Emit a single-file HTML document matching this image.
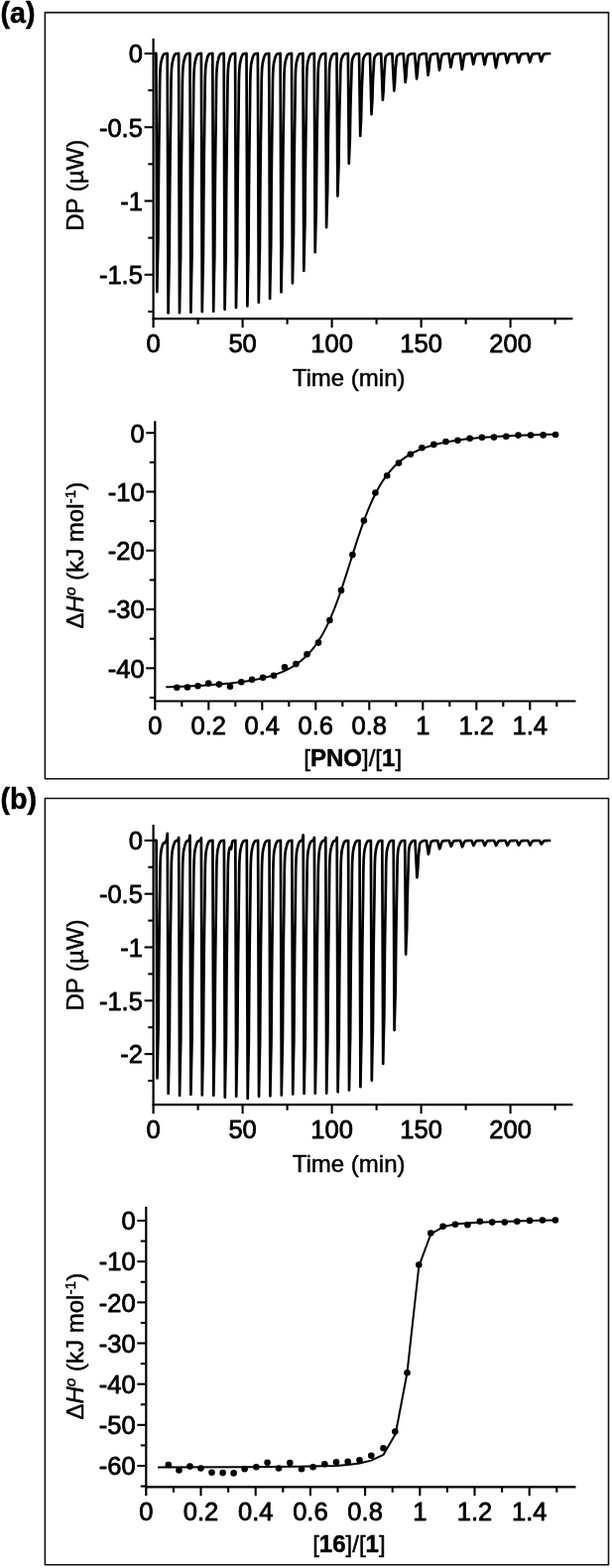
<!DOCTYPE html>
<html lang="en">
<head>
<meta charset="utf-8">
<title>ITC thermograms and binding isotherms</title>
<style>html,body{margin:0;padding:0;background:#fff}svg{display:block}</style>
</head>
<body>
<svg width="617" height="1580" viewBox="0 0 617 1580" font-family='"Liberation Sans", sans-serif' fill="#000">
<g stroke="#000" stroke-width="0.8" stroke-linejoin="round">
<rect width="617" height="1580" fill="#fff" stroke="none"/>
<rect x="45.4" y="12.6" width="568.1" height="772.2" fill="none" stroke="#111" stroke-width="1.6"/>
<rect x="45.4" y="804.5" width="568.1" height="772.3" fill="none" stroke="#111" stroke-width="1.6"/>
<text x="0.6" y="23" font-size="28.6" text-anchor="start" font-weight="bold" stroke-width="0.5">(a)</text>
<text x="0.6" y="815.3" font-size="28.6" text-anchor="start" font-weight="bold" stroke-width="0.5">(b)</text>
<line x1="154.6" y1="38.8" x2="154.6" y2="330.2" stroke="#000" stroke-width="2.2"/>
<line x1="153.5" y1="321.2" x2="577.4" y2="321.2" stroke="#000" stroke-width="2.2"/>
<line x1="145.6" y1="53.9" x2="154.6" y2="53.9" stroke="#000" stroke-width="2.1"/>
<text x="143.9" y="63.2" font-size="25.5" text-anchor="end">0</text>
<line x1="145.6" y1="128.2" x2="154.6" y2="128.2" stroke="#000" stroke-width="2.1"/>
<text x="143.9" y="137.5" font-size="25.5" text-anchor="end">-0.5</text>
<line x1="145.6" y1="202.5" x2="154.6" y2="202.5" stroke="#000" stroke-width="2.1"/>
<text x="143.9" y="211.8" font-size="25.5" text-anchor="end">-1</text>
<line x1="145.6" y1="276.8" x2="154.6" y2="276.8" stroke="#000" stroke-width="2.1"/>
<text x="143.9" y="286.1" font-size="25.5" text-anchor="end">-1.5</text>
<line x1="149.3" y1="91.05" x2="154.6" y2="91.05" stroke="#000" stroke-width="2.1"/>
<line x1="149.3" y1="165.35" x2="154.6" y2="165.35" stroke="#000" stroke-width="2.1"/>
<line x1="149.3" y1="239.65" x2="154.6" y2="239.65" stroke="#000" stroke-width="2.1"/>
<line x1="149.3" y1="313.95" x2="154.6" y2="313.95" stroke="#000" stroke-width="2.1"/>
<line x1="244.6" y1="321.2" x2="244.6" y2="330.2" stroke="#000" stroke-width="2.1"/>
<line x1="334.6" y1="321.2" x2="334.6" y2="330.2" stroke="#000" stroke-width="2.1"/>
<line x1="424.6" y1="321.2" x2="424.6" y2="330.2" stroke="#000" stroke-width="2.1"/>
<line x1="514.6" y1="321.2" x2="514.6" y2="330.2" stroke="#000" stroke-width="2.1"/>
<line x1="199.6" y1="321.2" x2="199.6" y2="326.7" stroke="#000" stroke-width="2.1"/>
<line x1="289.6" y1="321.2" x2="289.6" y2="326.7" stroke="#000" stroke-width="2.1"/>
<line x1="379.6" y1="321.2" x2="379.6" y2="326.7" stroke="#000" stroke-width="2.1"/>
<line x1="469.6" y1="321.2" x2="469.6" y2="326.7" stroke="#000" stroke-width="2.1"/>
<line x1="559.6" y1="321.2" x2="559.6" y2="326.7" stroke="#000" stroke-width="2.1"/>
<text x="154.6" y="355.3" font-size="25.5" text-anchor="middle">0</text>
<text x="244.6" y="355.3" font-size="25.5" text-anchor="middle">50</text>
<text x="334.6" y="355.3" font-size="25.5" text-anchor="middle">100</text>
<text x="424.6" y="355.3" font-size="25.5" text-anchor="middle">150</text>
<text x="514.6" y="355.3" font-size="25.5" text-anchor="middle">200</text>
<text x="351.6" y="388.5" font-size="24" text-anchor="middle" stroke-width="0.5">Time (min)</text>
<text transform="translate(84 186.8) rotate(-90)" font-size="24" text-anchor="middle" stroke-width="0.5">DP (µW)</text>
<polyline points="155.1,53.9 155.2,53.9 155.3,53.9 155.4,53.9 155.5,53.9 155.6,53.9 155.7,53.9 155.8,53.9 155.9,53.9 156,53.9 156.1,53.9 156.2,53.9 156.3,53.9 156.4,53.9 156.5,53.9 156.6,53.9 156.7,53.9 156.8,53.9 156.9,53.9 157,53.9 157.1,53.9 157.2,53.9 157.3,53.9 157.4,53.9 157.5,80.59 157.6,107.28 157.7,133.97 157.8,160.66 157.9,187.34 158,214.03 158.1,240.72 158.2,267.41 158.3,294.1 158.4,288.92 158.5,283.84 158.6,278.88 158.7,274.03 158.8,269.28 158.9,264.63 159,260.08 159.1,255.63 159.2,251.28 159.3,247.02 159.4,242.85 159.5,228.63 159.6,215.48 159.7,203.32 159.8,192.08 159.9,181.68 160,172.06 160.1,163.17 160.2,154.95 160.3,147.09 160.4,139.6 160.5,132.71 160.6,126.38 160.7,119.36 160.8,111.96 160.9,105.39 161,96.91 161.1,87.73 161.2,80.51 161.3,76.81 161.4,73.62 161.5,71.7 161.6,69.96 161.7,68.4 161.8,66.99 161.9,66.09 162,65.25 162.1,64.47 162.2,63.75 162.3,63.14 162.4,62.63 162.5,62.16 162.6,61.7 162.7,61.28 162.8,60.87 162.9,60.49 163,60.13 163.1,59.73 163.2,59.29 163.3,58.89 163.4,58.51 163.5,58.17 163.6,57.85 163.7,57.55 163.8,57.28 163.9,57.03 164,56.79 164.1,56.58 164.2,56.38 164.3,56.11 164.4,55.88 164.5,55.67 164.6,55.49 164.7,55.32 164.8,55.17 164.9,55.04 165,54.92 165.1,54.81 165.2,54.71 165.3,54.63 165.4,54.55 165.5,54.48 165.6,54.42 165.7,54.37 165.8,54.32 165.9,54.27 166,54.23 166.1,54.2 166.2,54.17 166.3,54.14 166.4,54.11 166.5,54.09 166.6,54.07 166.7,54.05 166.8,54.03 166.9,54.02 167,54.01 167.1,53.99 167.2,53.98 167.3,53.97 167.4,53.97 167.5,53.96 167.6,53.95 167.7,53.95 167.8,53.94 167.9,53.94 168,53.93 168.1,53.93 168.2,53.93 168.3,53.92 168.4,53.92 168.5,53.92 168.6,53.92 168.7,53.91 168.8,82.97 168.9,112.02 169,141.08 169.1,170.13 169.2,199.19 169.3,228.24 169.4,257.3 169.5,286.35 169.6,315.41 169.7,309.76 169.8,304.24 169.9,298.84 170,293.55 170.1,288.38 170.2,283.32 170.3,278.37 170.4,273.52 170.5,268.78 170.6,264.14 170.7,259.61 170.8,244.13 170.9,229.81 171,216.57 171.1,204.33 171.2,193.01 171.3,182.54 171.4,172.86 171.5,163.91 171.6,155.35 171.7,147.2 171.8,139.71 171.9,132.81 172,125.17 172.1,117.11 172.2,109.96 172.3,100.73 172.4,90.74 172.5,82.88 172.6,78.84 172.7,75.37 172.8,73.28 172.9,71.39 173,69.69 173.1,68.15 173.2,67.17 173.3,66.26 173.4,65.41 173.5,64.62 173.6,63.96 173.7,63.41 173.8,62.89 173.9,62.4 174,61.94 174.1,61.5 174.2,61.08 174.3,60.69 174.4,60.25 174.5,59.77 174.6,59.33 174.7,58.93 174.8,58.55 174.9,58.2 175,57.88 175.1,57.58 175.2,57.31 175.3,57.05 175.4,56.82 175.5,56.6 175.6,56.32 175.7,56.06 175.8,55.83 175.9,55.63 176,55.45 176.1,55.29 176.2,55.14 176.3,55.01 176.4,54.89 176.5,54.79 176.6,54.7 176.7,54.61 176.8,54.54 176.9,54.47 177,54.41 177.1,54.36 177.2,54.31 177.3,54.27 177.4,54.23 177.5,54.2 177.6,54.16 177.7,54.13 177.8,54.11 177.9,54.09 178,54.07 178.1,54.05 178.2,54.03 178.3,54.02 178.4,54.01 178.5,53.99 178.6,53.98 178.7,53.98 178.8,53.97 178.9,53.96 179,53.95 179.1,53.95 179.2,53.94 179.3,53.94 179.4,53.94 179.5,53.93 179.6,53.93 179.7,53.93 179.8,53.92 179.9,53.92 180,53.92 180.1,53.92 180.2,82.95 180.3,111.98 180.4,141.01 180.5,170.05 180.6,199.08 180.7,228.11 180.8,257.14 180.9,286.18 181,315.21 181.1,309.57 181.2,304.05 181.3,298.65 181.4,293.37 181.5,288.2 181.6,283.15 181.7,278.2 181.8,273.36 181.9,268.62 182,263.99 182.1,259.45 182.2,243.99 182.3,229.68 182.4,216.45 182.5,204.22 182.6,192.91 182.7,182.45 182.8,172.78 182.9,163.83 183,155.28 183.1,147.14 183.2,139.65 183.3,132.76 183.4,125.12 183.5,117.07 183.6,109.93 183.7,100.7 183.8,90.71 183.9,82.86 184,78.83 184.1,75.36 184.2,73.27 184.3,71.38 184.4,69.68 184.5,68.14 184.6,67.17 184.7,66.26 184.8,65.41 184.9,64.62 185,63.96 185.1,63.41 185.2,62.89 185.3,62.4 185.4,61.93 185.5,61.49 185.6,61.08 185.7,60.69 185.8,60.25 185.9,59.77 186,59.33 186.1,58.93 186.2,58.55 186.3,58.2 186.4,57.88 186.5,57.58 186.6,57.31 186.7,57.05 186.8,56.82 186.9,56.6 187,56.32 187.1,56.06 187.2,55.84 187.3,55.63 187.4,55.45 187.5,55.29 187.6,55.14 187.7,55.01 187.8,54.9 187.9,54.79 188,54.7 188.1,54.62 188.2,54.54 188.3,54.48 188.4,54.42 188.5,54.36 188.6,54.31 188.7,54.27 188.8,54.23 188.9,54.2 189,54.17 189.1,54.14 189.2,54.11 189.3,54.09 189.4,54.07 189.5,54.05 189.6,54.04 189.7,54.02 189.8,54.01 189.9,54 190,53.99 190.1,53.98 190.2,53.97 190.3,53.97 190.4,53.96 190.5,53.95 190.6,53.95 190.7,53.94 190.8,53.94 190.9,53.94 191,53.93 191.1,53.93 191.2,53.93 191.3,53.93 191.4,53.92 191.5,53.92 191.6,82.9 191.7,111.88 191.8,140.85 191.9,169.83 192,198.81 192.1,227.78 192.2,256.76 192.3,285.74 192.4,314.71 192.5,309.08 192.6,303.58 192.7,298.19 192.8,292.92 192.9,287.76 193,282.71 193.1,277.77 193.2,272.94 193.3,268.22 193.4,263.59 193.5,259.07 193.6,243.63 193.7,229.35 193.8,216.15 193.9,203.94 194,192.65 194.1,182.21 194.2,172.55 194.3,163.63 194.4,155.09 194.5,146.96 194.6,139.49 194.7,132.61 194.8,124.99 194.9,116.95 195,109.82 195.1,100.61 195.2,90.65 195.3,82.81 195.4,78.79 195.5,75.32 195.6,73.23 195.7,71.35 195.8,69.65 195.9,68.12 196,67.14 196.1,66.24 196.2,65.39 196.3,64.6 196.4,63.94 196.5,63.39 196.6,62.88 196.7,62.39 196.8,61.92 196.9,61.48 197,61.07 197.1,60.68 197.2,60.24 197.3,59.77 197.4,59.33 197.5,58.92 197.6,58.55 197.7,58.2 197.8,57.88 197.9,57.58 198,57.31 198.1,57.05 198.2,56.82 198.3,56.6 198.4,56.32 198.5,56.06 198.6,55.84 198.7,55.64 198.8,55.45 198.9,55.29 199,55.15 199.1,55.02 199.2,54.9 199.3,54.8 199.4,54.7 199.5,54.62 199.6,54.55 199.7,54.48 199.8,54.42 199.9,54.37 200,54.32 200.1,54.28 200.2,54.24 200.3,54.2 200.4,54.17 200.5,54.14 200.6,54.12 200.7,54.09 200.8,54.07 200.9,54.06 201,54.04 201.1,54.03 201.2,54.01 201.3,54 201.4,53.99 201.5,53.98 201.6,53.98 201.7,53.97 201.8,53.96 201.9,53.96 202,53.95 202.1,53.95 202.2,53.94 202.3,53.94 202.4,53.94 202.5,53.94 202.6,53.93 202.7,53.93 202.8,53.93 202.9,53.93 203,82.84 203.1,111.75 203.2,140.66 203.3,169.57 203.4,198.48 203.5,227.39 203.6,256.3 203.7,285.21 203.8,314.12 203.9,308.5 204,303.01 204.1,297.63 204.2,292.37 204.3,287.23 204.4,282.19 204.5,277.26 204.6,272.44 204.7,267.73 204.8,263.11 204.9,258.6 205,243.19 205.1,228.95 205.2,215.78 205.3,203.6 205.4,192.33 205.5,181.92 205.6,172.29 205.7,163.38 205.8,154.86 205.9,146.75 206,139.29 206.1,132.43 206.2,124.83 206.3,116.81 206.4,109.7 206.5,100.51 206.6,90.57 206.7,82.75 206.8,78.73 206.9,75.28 207,73.19 207.1,71.32 207.2,69.62 207.3,68.09 207.4,67.12 207.5,66.21 207.6,65.37 207.7,64.58 207.8,63.92 207.9,63.38 208,62.86 208.1,62.37 208.2,61.91 208.3,61.47 208.4,61.06 208.5,60.67 208.6,60.23 208.7,59.76 208.8,59.32 208.9,58.92 209,58.54 209.1,58.19 209.2,57.87 209.3,57.58 209.4,57.3 209.5,57.05 209.6,56.82 209.7,56.6 209.8,56.32 209.9,56.06 210,55.84 210.1,55.64 210.2,55.45 210.3,55.29 210.4,55.15 210.5,55.02 210.6,54.9 210.7,54.8 210.8,54.71 210.9,54.62 211,54.55 211.1,54.48 211.2,54.42 211.3,54.37 211.4,54.32 211.5,54.28 211.6,54.24 211.7,54.21 211.8,54.17 211.9,54.15 212,54.12 212.1,54.1 212.2,54.08 212.3,54.06 212.4,54.05 212.5,54.03 212.6,54.02 212.7,54.01 212.8,54 212.9,53.99 213,53.98 213.1,53.97 213.2,53.97 213.3,53.96 213.4,53.96 213.5,53.95 213.6,53.95 213.7,53.95 213.8,53.94 213.9,53.94 214,53.94 214.1,53.93 214.2,53.93 214.3,53.93 214.4,82.81 214.5,111.68 214.6,140.56 214.7,169.44 214.8,198.31 214.9,227.19 215,256.07 215.1,284.94 215.2,313.82 215.3,308.21 215.4,302.72 215.5,297.35 215.6,292.1 215.7,286.96 215.8,281.93 215.9,277.01 216,272.2 216.1,267.48 216.2,262.88 216.3,258.37 216.4,242.98 216.5,228.75 216.6,215.6 216.7,203.43 216.8,192.18 216.9,181.77 217,172.15 217.1,163.26 217.2,154.75 217.3,146.65 217.4,139.2 217.5,132.35 217.6,124.75 217.7,116.74 217.8,109.64 217.9,100.46 218,90.53 218.1,82.72 218.2,78.71 218.3,75.26 218.4,73.18 218.5,71.3 218.6,69.61 218.7,68.08 218.8,67.11 218.9,66.2 219,65.36 219.1,64.57 219.2,63.92 219.3,63.37 219.4,62.85 219.5,62.37 219.6,61.9 219.7,61.47 219.8,61.05 219.9,60.66 220,60.23 220.1,59.75 220.2,59.32 220.3,58.91 220.4,58.54 220.5,58.19 220.6,57.87 220.7,57.58 220.8,57.3 220.9,57.05 221,56.82 221.1,56.6 221.2,56.32 221.3,56.07 221.4,55.84 221.5,55.64 221.6,55.46 221.7,55.3 221.8,55.15 221.9,55.02 222,54.91 222.1,54.8 222.2,54.71 222.3,54.63 222.4,54.55 222.5,54.49 222.6,54.43 222.7,54.37 222.8,54.33 222.9,54.28 223,54.24 223.1,54.21 223.2,54.18 223.3,54.15 223.4,54.13 223.5,54.1 223.6,54.08 223.7,54.07 223.8,54.05 223.9,54.04 224,54.02 224.1,54.01 224.2,54 224.3,53.99 224.4,53.98 224.5,53.98 224.6,53.97 224.7,53.97 224.8,53.96 224.9,53.96 225,53.95 225.1,53.95 225.2,53.95 225.3,53.94 225.4,53.94 225.5,53.94 225.6,53.94 225.7,53.94 225.8,82.59 225.9,111.24 226,139.9 226.1,168.55 226.2,197.21 226.3,225.86 226.4,254.52 226.5,283.17 226.6,311.83 226.7,306.26 226.8,300.81 226.9,295.49 227,290.27 227.1,285.17 227.2,280.18 227.3,275.3 227.4,270.52 227.5,265.85 227.6,261.27 227.7,256.8 227.8,241.53 227.9,227.41 228,214.36 228.1,202.28 228.2,191.12 228.3,180.8 228.4,171.25 228.5,162.42 228.6,153.98 228.7,145.94 228.8,138.55 228.9,131.75 229,124.21 229.1,116.26 229.2,109.21 229.3,100.11 229.4,90.25 229.5,82.5 229.6,78.52 229.7,75.1 229.8,73.03 229.9,71.17 230,69.49 230.1,67.98 230.2,67.01 230.3,66.11 230.4,65.28 230.5,64.5 230.6,63.84 230.7,63.3 230.8,62.79 230.9,62.3 231,61.85 231.1,61.41 231.2,61 231.3,60.62 231.4,60.18 231.5,59.71 231.6,59.28 231.7,58.88 231.8,58.51 231.9,58.17 232,57.85 232.1,57.55 232.2,57.28 232.3,57.03 232.4,56.8 232.5,56.58 232.6,56.3 232.7,56.05 232.8,55.83 232.9,55.63 233,55.45 233.1,55.29 233.2,55.15 233.3,55.02 233.4,54.9 233.5,54.8 233.6,54.71 233.7,54.63 233.8,54.55 233.9,54.49 234,54.43 234.1,54.37 234.2,54.33 234.3,54.28 234.4,54.25 234.5,54.21 234.6,54.18 234.7,54.15 234.8,54.13 234.9,54.11 235,54.09 235.1,54.07 235.2,54.05 235.3,54.04 235.4,54.03 235.5,54.02 235.6,54.01 235.7,54 235.8,53.99 235.9,53.98 236,53.98 236.1,53.97 236.2,53.97 236.3,53.96 236.4,53.96 236.5,53.95 236.6,53.95 236.7,53.95 236.8,53.95 236.9,53.94 237,53.94 237.1,53.94 237.2,82.38 237.3,110.83 237.4,139.27 237.5,167.71 237.6,196.16 237.7,224.6 237.8,253.04 237.9,281.49 238,309.93 238.1,304.41 238.2,299 238.3,293.71 238.4,288.54 238.5,283.47 238.6,278.52 238.7,273.67 238.8,268.93 238.9,264.29 239,259.75 239.1,255.31 239.2,240.15 239.3,226.14 239.4,213.18 239.5,201.2 239.6,190.11 239.7,179.87 239.8,170.39 239.9,161.62 240,153.25 240.1,145.27 240.2,137.93 240.3,131.18 240.4,123.7 240.5,115.81 240.6,108.81 240.7,99.77 240.8,89.99 240.9,82.3 241,78.34 241.1,74.94 241.2,72.9 241.3,71.05 241.4,69.38 241.5,67.88 241.6,66.92 241.7,66.03 241.8,65.2 241.9,64.42 242,63.78 242.1,63.24 242.2,62.73 242.3,62.25 242.4,61.79 242.5,61.36 242.6,60.96 242.7,60.57 242.8,60.14 242.9,59.68 243,59.25 243.1,58.85 243.2,58.48 243.3,58.14 243.4,57.82 243.5,57.53 243.6,57.26 243.7,57.01 243.8,56.78 243.9,56.57 244,56.29 244.1,56.04 244.2,55.82 244.3,55.62 244.4,55.44 244.5,55.28 244.6,55.14 244.7,55.01 244.8,54.9 244.9,54.8 245,54.71 245.1,54.62 245.2,54.55 245.3,54.49 245.4,54.43 245.5,54.38 245.6,54.33 245.7,54.29 245.8,54.25 245.9,54.22 246,54.18 246.1,54.16 246.2,54.13 246.3,54.11 246.4,54.09 246.5,54.07 246.6,54.06 246.7,54.04 246.8,54.03 246.9,54.02 247,54.01 247.1,54 247.2,53.99 247.3,53.99 247.4,53.98 247.5,53.97 247.6,53.97 247.7,53.97 247.8,53.96 247.9,53.96 248,53.95 248.1,53.95 248.2,53.95 248.3,53.95 248.4,53.95 248.5,53.94 248.6,82.22 248.7,110.5 248.8,138.77 248.9,167.05 249,195.33 249.1,223.6 249.2,251.88 249.3,280.16 249.4,308.43 249.5,302.94 249.6,297.57 249.7,292.31 249.8,287.17 249.9,282.13 250,277.21 250.1,272.39 250.2,267.67 250.3,263.06 250.4,258.55 250.5,254.13 250.6,239.07 250.7,225.13 250.8,212.25 250.9,200.34 251,189.32 251.1,179.13 251.2,169.71 251.3,161 251.4,152.67 251.5,144.74 251.6,137.44 251.7,130.73 251.8,123.29 251.9,115.45 252,108.49 252.1,99.51 252.2,89.78 252.3,82.13 252.4,78.21 252.5,74.83 252.6,72.79 252.7,70.95 252.8,69.29 252.9,67.8 253,66.85 253.1,65.96 253.2,65.13 253.3,64.37 253.4,63.72 253.5,63.19 253.6,62.68 253.7,62.2 253.8,61.75 253.9,61.32 254,60.92 254.1,60.54 254.2,60.11 254.3,59.65 254.4,59.22 254.5,58.82 254.6,58.46 254.7,58.12 254.8,57.81 254.9,57.52 255,57.25 255.1,57 255.2,56.77 255.3,56.56 255.4,56.28 255.5,56.03 255.6,55.81 255.7,55.62 255.8,55.44 255.9,55.28 256,55.14 256.1,55.01 256.2,54.9 256.3,54.8 256.4,54.71 256.5,54.62 256.6,54.55 256.7,54.49 256.8,54.43 256.9,54.38 257,54.33 257.1,54.29 257.2,54.25 257.3,54.22 257.4,54.19 257.5,54.16 257.6,54.13 257.7,54.11 257.8,54.09 257.9,54.08 258,54.06 258.1,54.05 258.2,54.03 258.3,54.02 258.4,54.01 258.5,54 258.6,54 258.7,53.99 258.8,53.98 258.9,53.98 259,53.97 259.1,53.97 259.2,53.97 259.3,53.96 259.4,53.96 259.5,53.96 259.6,53.95 259.7,53.95 259.8,53.95 259.9,53.95 260,81.8 260.1,109.66 260.2,137.51 260.3,165.37 260.4,193.22 260.5,221.07 260.6,248.93 260.7,276.78 260.8,304.64 260.9,299.23 261,293.93 261.1,288.75 261.2,283.69 261.3,278.73 261.4,273.88 261.5,269.13 261.6,264.49 261.7,259.94 261.8,255.5 261.9,251.15 262,236.31 262.1,222.58 262.2,209.89 262.3,198.16 262.4,187.3 262.5,177.27 262.6,167.99 262.7,159.4 262.8,151.2 262.9,143.38 263,136.2 263.1,129.59 263.2,122.26 263.3,114.54 263.4,107.68 263.5,98.83 263.6,89.25 263.7,81.72 263.8,77.85 263.9,74.52 264,72.51 264.1,70.7 264.2,69.07 264.3,67.6 264.4,66.66 264.5,65.79 264.6,64.97 264.7,64.21 264.8,63.58 264.9,63.05 265,62.55 265.1,62.08 265.2,61.64 265.3,61.22 265.4,60.82 265.5,60.44 265.6,60.02 265.7,59.57 265.8,59.14 265.9,58.75 266,58.39 266.1,58.06 266.2,57.75 266.3,57.47 266.4,57.2 266.5,56.96 266.6,56.73 266.7,56.52 266.8,56.25 266.9,56.01 267,55.79 267.1,55.59 267.2,55.42 267.3,55.26 267.4,55.12 267.5,55 267.6,54.89 267.7,54.79 267.8,54.7 267.9,54.62 268,54.55 268.1,54.48 268.2,54.43 268.3,54.37 268.4,54.33 268.5,54.29 268.6,54.25 268.7,54.22 268.8,54.19 268.9,54.16 269,54.14 269.1,54.11 269.2,54.09 269.3,54.08 269.4,54.06 269.5,54.05 269.6,54.04 269.7,54.03 269.8,54.02 269.9,54.01 270,54 270.1,53.99 270.2,53.99 270.3,53.98 270.4,53.98 270.5,53.97 270.6,53.97 270.7,53.97 270.8,53.96 270.9,53.96 271,53.96 271.1,53.96 271.2,53.95 271.3,81.4 271.4,108.84 271.5,136.28 271.6,163.73 271.7,191.17 271.8,218.61 271.9,246.06 272,273.5 272.1,300.94 272.2,295.61 272.3,290.4 272.4,285.29 272.5,280.3 272.6,275.42 272.7,270.64 272.8,265.96 272.9,261.38 273,256.91 273.1,252.53 273.2,248.24 273.3,233.62 273.4,220.1 273.5,207.59 273.6,196.03 273.7,185.34 273.8,175.45 273.9,166.31 274,157.85 274.1,149.77 274.2,142.07 274.3,134.99 274.4,128.48 274.5,121.26 274.6,113.65 274.7,106.89 274.8,98.17 274.9,88.73 275,81.31 275.1,77.5 275.2,74.22 275.3,72.24 275.4,70.46 275.5,68.85 275.6,67.4 275.7,66.47 275.8,65.61 275.9,64.81 276,64.07 276.1,63.44 276.2,62.92 276.3,62.43 276.4,61.97 276.5,61.53 276.6,61.11 276.7,60.72 276.8,60.35 276.9,59.94 277,59.49 277.1,59.07 277.2,58.69 277.3,58.33 277.4,58 277.5,57.7 277.6,57.42 277.7,57.16 277.8,56.92 277.9,56.69 278,56.49 278.1,56.22 278.2,55.98 278.3,55.77 278.4,55.57 278.5,55.4 278.6,55.25 278.7,55.11 278.8,54.99 278.9,54.88 279,54.78 279.1,54.69 279.2,54.61 279.3,54.54 279.4,54.48 279.5,54.42 279.6,54.37 279.7,54.33 279.8,54.29 279.9,54.25 280,54.22 280.1,54.19 280.2,54.16 280.3,54.14 280.4,54.12 280.5,54.1 280.6,54.08 280.7,54.06 280.8,54.05 280.9,54.04 281,54.03 281.1,54.02 281.2,54.01 281.3,54 281.4,54 281.5,53.99 281.6,53.99 281.7,53.98 281.8,53.98 281.9,53.97 282,53.97 282.1,53.97 282.2,53.96 282.3,53.96 282.4,53.96 282.5,53.96 282.6,53.96 282.7,80.67 282.8,107.38 282.9,134.09 283,160.8 283.1,187.51 283.2,214.22 283.3,240.93 283.4,267.64 283.5,294.35 283.6,289.16 283.7,284.08 283.8,279.12 283.9,274.26 284,269.5 284.1,264.85 284.2,260.3 284.3,255.84 284.4,251.49 284.5,247.22 284.6,243.05 284.7,228.82 284.8,215.66 284.9,203.49 285,192.24 285.1,181.83 285.2,172.21 285.3,163.31 285.4,155.08 285.5,147.21 285.6,139.72 285.7,132.83 285.8,126.49 285.9,119.46 286,112.05 286.1,105.48 286.2,96.99 286.3,87.81 286.4,80.58 286.5,76.87 286.6,73.68 286.7,71.76 286.8,70.02 286.9,68.46 287,67.04 287.1,66.14 287.2,65.31 287.3,64.53 287.4,63.8 287.5,63.19 287.6,62.69 287.7,62.21 287.8,61.76 287.9,61.33 288,60.93 288.1,60.54 288.2,60.18 288.3,59.78 288.4,59.34 288.5,58.94 288.6,58.56 288.7,58.22 288.8,57.9 288.9,57.6 289,57.33 289.1,57.08 289.2,56.84 289.3,56.63 289.4,56.42 289.5,56.16 289.6,55.93 289.7,55.72 289.8,55.53 289.9,55.37 290,55.22 290.1,55.08 290.2,54.96 290.3,54.86 290.4,54.76 290.5,54.68 290.6,54.6 290.7,54.53 290.8,54.47 290.9,54.41 291,54.36 291.1,54.32 291.2,54.28 291.3,54.25 291.4,54.21 291.5,54.19 291.6,54.16 291.7,54.14 291.8,54.11 291.9,54.1 292,54.08 292.1,54.07 292.2,54.05 292.3,54.04 292.4,54.03 292.5,54.02 292.6,54.01 292.7,54.01 292.8,54 292.9,53.99 293,53.99 293.1,53.98 293.2,53.98 293.3,53.98 293.4,53.97 293.5,53.97 293.6,53.97 293.7,53.97 293.8,53.96 293.9,53.96 294,53.96 294.1,79.67 294.2,105.38 294.3,131.09 294.4,156.8 294.5,182.51 294.6,208.22 294.7,233.93 294.8,259.64 294.9,285.35 295,280.36 295.1,275.47 295.2,270.69 295.3,266.01 295.4,261.44 295.5,256.96 295.6,252.58 295.7,248.29 295.8,244.1 295.9,239.99 296,235.98 296.1,222.28 296.2,209.61 296.3,197.9 296.4,187.07 296.5,177.05 296.6,167.78 296.7,159.22 296.8,151.3 296.9,143.72 297,136.51 297.1,129.88 297.2,123.78 297.3,117.01 297.4,109.88 297.5,103.56 297.6,95.39 297.7,86.55 297.8,79.59 297.9,76.02 298,72.95 298.1,71.09 298.2,69.42 298.3,67.92 298.4,66.56 298.5,65.69 298.6,64.89 298.7,64.13 298.8,63.44 298.9,62.85 299,62.36 299.1,61.9 299.2,61.47 299.3,61.06 299.4,60.67 299.5,60.3 299.6,59.95 299.7,59.56 299.8,59.14 299.9,58.76 300,58.4 300.1,58.06 300.2,57.76 300.3,57.47 300.4,57.21 300.5,56.96 300.6,56.74 300.7,56.53 300.8,56.34 300.9,56.08 301,55.86 301.1,55.66 301.2,55.48 301.3,55.32 301.4,55.17 301.5,55.05 301.6,54.93 301.7,54.83 301.8,54.73 301.9,54.65 302,54.58 302.1,54.51 302.2,54.45 302.3,54.4 302.4,54.35 302.5,54.31 302.6,54.27 302.7,54.24 302.8,54.21 302.9,54.18 303,54.16 303.1,54.13 303.2,54.11 303.3,54.09 303.4,54.08 303.5,54.06 303.6,54.05 303.7,54.04 303.8,54.03 303.9,54.02 304,54.01 304.1,54.01 304.2,54 304.3,54 304.4,53.99 304.5,53.99 304.6,53.98 304.7,53.98 304.8,53.98 304.9,53.97 305,53.97 305.1,53.97 305.2,53.97 305.3,53.96 305.4,53.96 305.5,78.28 305.6,102.61 305.7,126.93 305.8,151.25 305.9,175.57 306,199.89 306.1,224.21 306.2,248.53 306.3,272.86 306.4,268.13 306.5,263.51 306.6,258.99 306.7,254.56 306.8,250.23 306.9,246 307,241.85 307.1,237.8 307.2,233.83 307.3,229.95 307.4,226.15 307.5,213.19 307.6,201.21 307.7,190.13 307.8,179.88 307.9,170.4 308,161.64 308.1,153.54 308.2,146.04 308.3,138.88 308.4,132.05 308.5,125.78 308.6,120.01 308.7,113.61 308.8,106.87 308.9,100.88 309,93.15 309.1,84.79 309.2,78.21 309.3,74.83 309.4,71.92 309.5,70.17 309.6,68.59 309.7,67.17 309.8,65.88 309.9,65.06 310,64.3 310.1,63.59 310.2,62.93 310.3,62.37 310.4,61.91 310.5,61.48 310.6,61.07 310.7,60.68 310.8,60.31 310.9,59.96 311,59.63 311.1,59.27 311.2,58.87 311.3,58.5 311.4,58.16 311.5,57.84 311.6,57.55 311.7,57.28 311.8,57.03 311.9,56.8 312,56.59 312.1,56.39 312.2,56.21 312.3,55.97 312.4,55.76 312.5,55.57 312.6,55.4 312.7,55.25 312.8,55.11 312.9,54.99 313,54.88 313.1,54.78 313.2,54.7 313.3,54.62 313.4,54.55 313.5,54.49 313.6,54.43 313.7,54.38 313.8,54.34 313.9,54.3 314,54.26 314.1,54.23 314.2,54.2 314.3,54.17 314.4,54.15 314.5,54.13 314.6,54.11 314.7,54.09 314.8,54.08 314.9,54.06 315,54.05 315.1,54.04 315.2,54.03 315.3,54.02 315.4,54.01 315.5,54.01 315.6,54 315.7,54 315.8,53.99 315.9,53.99 316,53.98 316.1,53.98 316.2,53.98 316.3,53.98 316.4,53.97 316.5,53.97 316.6,53.97 316.7,53.97 316.8,53.97 316.9,76.22 317,98.48 317.1,120.73 317.2,142.98 317.3,165.24 317.4,187.49 317.5,209.75 317.6,232 317.7,254.26 317.8,249.94 317.9,245.71 318,241.57 318.1,237.52 318.2,233.56 318.3,229.68 318.4,225.89 318.5,222.18 318.6,218.55 318.7,215 318.8,211.52 318.9,199.66 319,188.7 319.1,178.56 319.2,169.18 319.3,160.51 319.4,152.49 319.5,145.08 319.6,138.22 319.7,131.67 319.8,125.42 319.9,119.68 320,114.4 320.1,108.55 320.2,102.37 320.3,96.9 320.4,89.83 320.5,82.17 320.6,76.15 320.7,73.06 320.8,70.4 320.9,68.8 321,67.35 321.1,66.05 321.2,64.87 321.3,64.12 321.4,63.42 321.5,62.77 321.6,62.17 321.7,61.66 321.8,61.24 321.9,60.84 322,60.47 322.1,60.11 322.2,59.77 322.3,59.46 322.4,59.15 322.5,58.82 322.6,58.45 322.7,58.12 322.8,57.81 322.9,57.52 323,57.25 323.1,57 323.2,56.78 323.3,56.57 323.4,56.37 323.5,56.19 323.6,56.02 323.7,55.81 323.8,55.61 323.9,55.44 324,55.28 324.1,55.14 324.2,55.02 324.3,54.91 324.4,54.81 324.5,54.72 324.6,54.64 324.7,54.57 324.8,54.5 324.9,54.44 325,54.39 325.1,54.35 325.2,54.31 325.3,54.27 325.4,54.24 325.5,54.21 325.6,54.18 325.7,54.16 325.8,54.14 325.9,54.12 326,54.1 326.1,54.08 326.2,54.07 326.3,54.06 326.4,54.05 326.5,54.04 326.6,54.03 326.7,54.02 326.8,54.01 326.9,54.01 327,54 327.1,54 327.2,53.99 327.3,53.99 327.4,53.99 327.5,53.98 327.6,53.98 327.7,53.98 327.8,53.98 327.9,53.97 328,53.97 328.1,53.97 328.2,53.97 328.3,73.45 328.4,92.92 328.5,112.4 328.6,131.88 328.7,151.35 328.8,170.83 328.9,190.31 329,209.78 329.1,229.26 329.2,225.48 329.3,221.78 329.4,218.16 329.5,214.61 329.6,211.14 329.7,207.75 329.8,204.43 329.9,201.19 330,198.01 330.1,194.9 330.2,191.86 330.3,181.48 330.4,171.88 330.5,163.01 330.6,154.8 330.7,147.22 330.8,140.2 330.9,133.71 331,127.71 331.1,121.97 331.2,116.51 331.3,111.48 331.4,106.86 331.5,101.74 331.6,96.33 331.7,91.54 331.8,85.35 331.9,78.65 332,73.39 332.1,70.68 332.2,68.35 332.3,66.95 332.4,65.68 332.5,64.54 332.6,63.51 332.7,62.86 332.8,62.25 332.9,61.68 333,61.15 333.1,60.7 333.2,60.34 333.3,59.99 333.4,59.66 333.5,59.35 333.6,59.05 333.7,58.77 333.8,58.51 333.9,58.21 334,57.9 334.1,57.6 334.2,57.33 334.3,57.08 334.4,56.84 334.5,56.63 334.6,56.43 334.7,56.24 334.8,56.07 334.9,55.91 335,55.77 335.1,55.58 335.2,55.41 335.3,55.26 335.4,55.12 335.5,55 335.6,54.89 335.7,54.79 335.8,54.7 335.9,54.63 336,54.56 336.1,54.49 336.2,54.44 336.3,54.39 336.4,54.34 336.5,54.3 336.6,54.27 336.7,54.23 336.8,54.21 336.9,54.18 337,54.16 337.1,54.14 337.2,54.12 337.3,54.1 337.4,54.08 337.5,54.07 337.6,54.06 337.7,54.05 337.8,54.04 337.9,54.03 338,54.02 338.1,54.02 338.2,54.01 338.3,54 338.4,54 338.5,54 338.6,53.99 338.7,53.99 338.8,53.99 338.9,53.98 339,53.98 339.1,53.98 339.2,53.98 339.3,53.98 339.4,53.97 339.5,53.97 339.6,69.93 339.7,85.88 339.8,101.84 339.9,117.79 340,133.75 340.1,149.7 340.2,165.66 340.3,181.61 340.4,197.57 340.5,194.4 340.6,191.32 340.7,188.3 340.8,185.35 340.9,182.47 341,179.66 341.1,176.91 341.2,174.22 341.3,171.59 341.4,169.03 341.5,165.48 341.6,157.02 341.7,149.21 341.8,142 341.9,135.34 342,129.19 342.1,123.51 342.2,118.26 342.3,113.42 342.4,108.73 342.5,104.33 342.6,100.29 342.7,96.58 342.8,92.19 342.9,87.89 343,84.07 343.1,78.6 343.2,73.38 343.3,69.49 343.4,67.35 343.5,65.58 343.6,64.46 343.7,63.45 343.8,62.54 343.9,61.74 344,61.21 344.1,60.72 344.2,60.27 344.3,59.84 344.4,59.49 344.5,59.19 344.6,58.9 344.7,58.63 344.8,58.37 344.9,58.13 345,57.91 345.1,57.69 345.2,57.45 345.3,57.19 345.4,56.95 345.5,56.72 345.6,56.52 345.7,56.33 345.8,56.15 345.9,55.99 346,55.83 346.1,55.69 346.2,55.56 346.3,55.44 346.4,55.29 346.5,55.15 346.6,55.02 346.7,54.91 346.8,54.81 346.9,54.72 347,54.64 347.1,54.57 347.2,54.51 347.3,54.45 347.4,54.4 347.5,54.35 347.6,54.31 347.7,54.28 347.8,54.24 347.9,54.21 348,54.19 348.1,54.16 348.2,54.14 348.3,54.12 348.4,54.11 348.5,54.09 348.6,54.08 348.7,54.07 348.8,54.05 348.9,54.04 349,54.04 349.1,54.03 349.2,54.02 349.3,54.01 349.4,54.01 349.5,54 349.6,54 349.7,54 349.8,53.99 349.9,53.99 350,53.99 350.1,53.98 350.2,53.98 350.3,53.98 350.4,53.98 350.5,53.98 350.6,53.98 350.7,53.97 350.8,53.97 350.9,53.97 351,66.28 351.1,78.59 351.2,90.9 351.3,103.21 351.4,115.52 351.5,127.84 351.6,140.15 351.7,152.46 351.8,164.77 351.9,162.05 352,159.42 352.1,156.87 352.2,154.4 352.3,152 352.4,149.68 352.5,147.43 352.6,145.25 352.7,143.13 352.8,140.94 352.9,134.01 353,127.68 353.1,121.88 353.2,116.57 353.3,111.71 353.4,107.26 353.5,103.18 353.6,99.43 353.7,95.8 353.8,92.44 353.9,89.37 354,86.57 354.1,83.16 354.2,79.95 354.3,77.1 354.4,72.96 354.5,69.08 354.6,66.09 354.7,64.49 354.8,63.12 354.9,62.27 355,61.52 355.1,60.84 355.2,60.23 355.3,59.77 355.4,59.41 355.5,59.07 355.6,58.76 355.7,58.47 355.8,58.23 355.9,58 356,57.78 356.1,57.57 356.2,57.37 356.3,57.18 356.4,57.01 356.5,56.84 356.6,56.66 356.7,56.45 356.8,56.27 356.9,56.1 357,55.94 357.1,55.79 357.2,55.65 357.3,55.53 357.4,55.41 357.5,55.3 357.6,55.2 357.7,55.11 357.8,54.99 357.9,54.88 358,54.79 358.1,54.7 358.2,54.62 358.3,54.55 358.4,54.49 358.5,54.44 358.6,54.39 358.7,54.34 358.8,54.3 358.9,54.27 359,54.24 359.1,54.21 359.2,54.18 359.3,54.16 359.4,54.14 359.5,54.12 359.6,54.11 359.7,54.09 359.8,54.08 359.9,54.06 360,54.05 360.1,54.04 360.2,54.04 360.3,54.03 360.4,54.02 360.5,54.02 360.6,54.01 360.7,54.01 360.8,54 360.9,54 361,53.99 361.1,53.99 361.2,53.99 361.3,53.99 361.4,53.98 361.5,53.98 361.6,53.98 361.7,53.98 361.8,53.98 361.9,53.98 362,53.98 362.1,58.75 362.2,65.86 362.3,72.97 362.4,80.08 362.5,87.19 362.6,94.3 362.7,101.41 362.8,108.52 362.9,115.64 363,122.75 363.1,129.86 363.2,136.97 363.3,134.72 363.4,132.55 363.5,130.48 363.6,128.48 363.7,126.56 363.8,124.72 363.9,122.94 364,121.23 364.1,119.59 364.2,114.86 364.3,109.8 364.4,105.23 364.5,101.07 364.6,97.3 364.7,93.87 364.8,90.75 364.9,87.91 365,85.17 365.1,82.65 365.2,80.36 365.3,78.28 365.4,75.73 365.5,73.37 365.6,71.29 365.7,68.27 365.8,65.42 365.9,63.17 366,62 366.1,60.99 366.2,60.32 366.3,59.78 366.4,59.29 366.5,58.84 366.6,58.45 366.7,58.19 366.8,57.95 366.9,57.73 367,57.52 367.1,57.32 367.2,57.16 367.3,56.99 367.4,56.82 367.5,56.67 367.6,56.52 367.7,56.38 367.8,56.25 367.9,56.12 368,55.98 368.1,55.83 368.2,55.69 368.3,55.56 368.4,55.44 368.5,55.33 368.6,55.23 368.7,55.14 368.8,55.05 368.9,54.97 369,54.89 369.1,54.82 369.2,54.73 369.3,54.65 369.4,54.58 369.5,54.52 369.6,54.46 369.7,54.41 369.8,54.36 369.9,54.32 370,54.28 370.1,54.25 370.2,54.22 370.3,54.19 370.4,54.17 370.5,54.15 370.6,54.13 370.7,54.11 370.8,54.1 370.9,54.08 371,54.07 371.1,54.06 371.2,54.05 371.3,54.04 371.4,54.03 371.5,54.03 371.6,54.02 371.7,54.01 371.8,54.01 371.9,54.01 372,54 372.1,54 372.2,53.99 372.3,53.99 372.4,53.99 372.5,53.99 372.6,53.99 372.7,53.98 372.8,53.98 372.9,53.98 373,54.37 373.1,58.43 373.2,62.48 373.3,66.53 373.4,70.58 373.5,74.64 373.6,78.69 373.7,82.74 373.8,86.8 373.9,90.85 374,94.9 374.1,98.96 374.2,103.01 374.3,107.06 374.4,111.12 374.5,115.17 374.6,113.36 374.7,111.63 374.8,109.99 374.9,108.42 375,106.93 375.1,105.5 375.2,104.13 375.3,102.83 375.4,100.24 375.5,96.21 375.6,92.59 375.7,89.34 375.8,86.41 375.9,83.77 376,81.38 376.1,79.22 376.2,77.16 376.3,75.28 376.4,73.57 376.5,72.02 376.6,70.18 376.7,68.43 376.8,66.9 376.9,64.82 377,62.7 377.1,61.02 377.2,60.06 377.3,59.32 377.4,58.78 377.5,58.38 377.6,58.02 377.7,57.7 377.8,57.41 377.9,57.19 378,57.02 378.1,56.85 378.2,56.7 378.3,56.56 378.4,56.43 378.5,56.32 378.6,56.2 378.7,56.07 378.8,55.96 378.9,55.85 379,55.75 379.1,55.65 379.2,55.56 379.3,55.46 379.4,55.34 379.5,55.24 379.6,55.15 379.7,55.06 379.8,54.98 379.9,54.9 380,54.83 380.1,54.77 380.2,54.71 380.3,54.65 380.4,54.6 380.5,54.53 380.6,54.48 380.7,54.42 380.8,54.37 380.9,54.33 381,54.29 381.1,54.26 381.2,54.23 381.3,54.2 381.4,54.18 381.5,54.16 381.6,54.14 381.7,54.12 381.8,54.1 381.9,54.09 382,54.08 382.1,54.07 382.2,54.06 382.3,54.05 382.4,54.04 382.5,54.03 382.6,54.02 382.7,54.02 382.8,54.01 382.9,54.01 383,54 383.1,54 383.2,54 383.3,53.99 383.4,53.99 383.5,53.99 383.6,53.99 383.7,53.99 383.8,53.98 383.9,53.98 384,53.98 384.1,53.98 384.2,54.95 384.3,57.64 384.4,60.34 384.5,63.03 384.6,65.73 384.7,68.42 384.8,71.12 384.9,73.82 385,76.51 385.1,79.21 385.2,81.9 385.3,84.6 385.4,87.29 385.5,89.99 385.6,92.68 385.7,95.38 385.8,98.08 385.9,100.77 386,99.3 386.1,97.9 386.2,96.58 386.3,95.33 386.4,94.14 386.5,93.01 386.6,91.94 386.7,90.92 386.8,87.88 386.9,84.85 387,82.15 387.1,79.74 387.2,77.58 387.3,75.64 387.4,73.89 387.5,72.28 387.6,70.76 387.7,69.4 387.8,68.17 387.9,66.87 388,65.48 388.1,64.26 388.2,62.96 388.3,61.21 388.4,59.83 388.5,58.89 388.6,58.3 388.7,57.8 388.8,57.49 388.9,57.21 389,56.96 389.1,56.73 389.2,56.52 389.3,56.39 389.4,56.26 389.5,56.15 389.6,56.04 389.7,55.94 389.8,55.85 389.9,55.77 390,55.67 390.1,55.58 390.2,55.49 390.3,55.41 390.4,55.33 390.5,55.26 390.6,55.19 390.7,55.11 390.8,55.02 390.9,54.94 391,54.87 391.1,54.8 391.2,54.74 391.3,54.68 391.4,54.63 391.5,54.58 391.6,54.53 391.7,54.49 391.8,54.45 391.9,54.4 392,54.36 392.1,54.32 392.2,54.28 392.3,54.25 392.4,54.22 392.5,54.19 392.6,54.17 392.7,54.15 392.8,54.13 392.9,54.11 393,54.1 393.1,54.08 393.2,54.07 393.3,54.06 393.4,54.05 393.5,54.04 393.6,54.04 393.7,54.03 393.8,54.02 393.9,54.02 394,54.01 394.1,54.01 394.2,54 394.3,54 394.4,54 394.5,53.99 394.6,53.99 394.7,53.99 394.8,53.99 394.9,53.99 395,53.98 395.1,53.98 395.2,53.98 395.3,53.98 395.4,53.98 395.5,55.62 395.6,57.61 395.7,59.6 395.8,61.59 395.9,63.58 396,65.57 396.1,67.57 396.2,69.56 396.3,71.55 396.4,73.54 396.5,75.53 396.6,77.53 396.7,79.52 396.8,81.51 396.9,83.5 397,85.5 397.1,87.49 397.2,89.48 397.3,91.47 397.4,90.24 397.5,89.08 397.6,87.98 397.7,86.95 397.8,85.98 397.9,85.05 398,84.18 398.1,83.04 398.2,80.34 398.3,77.95 398.4,75.83 398.5,73.94 398.6,72.25 398.7,70.74 398.8,69.39 398.9,68.1 399,66.93 399.1,65.88 399.2,64.94 399.3,63.79 399.4,62.74 399.5,61.82 399.6,60.52 399.7,59.27 399.8,58.27 399.9,57.71 400,57.27 400.1,56.94 400.2,56.71 400.3,56.5 400.4,56.31 400.5,56.13 400.6,55.99 400.7,55.89 400.8,55.79 400.9,55.7 401,55.62 401.1,55.54 401.2,55.47 401.3,55.41 401.4,55.34 401.5,55.26 401.6,55.19 401.7,55.12 401.8,55.06 401.9,55 402,54.95 402.1,54.88 402.2,54.81 402.3,54.75 402.4,54.69 402.5,54.64 402.6,54.59 402.7,54.54 402.8,54.5 402.9,54.46 403,54.42 403.1,54.39 403.2,54.36 403.3,54.32 403.4,54.28 403.5,54.25 403.6,54.22 403.7,54.19 403.8,54.17 403.9,54.15 404,54.13 404.1,54.11 404.2,54.1 404.3,54.09 404.4,54.07 404.5,54.06 404.6,54.05 404.7,54.05 404.8,54.04 404.9,54.03 405,54.02 405.1,54.02 405.2,54.01 405.3,54.01 405.4,54.01 405.5,54 405.6,54 405.7,54 405.8,53.99 405.9,53.99 406,53.99 406.1,53.99 406.2,53.99 406.3,53.98 406.4,53.98 406.5,53.98 406.6,53.98 406.7,53.98 406.8,55.43 406.9,56.88 407,58.33 407.1,59.78 407.2,61.23 407.3,62.68 407.4,64.13 407.5,65.58 407.6,67.02 407.7,68.47 407.8,69.92 407.9,71.37 408,72.82 408.1,74.27 408.2,75.72 408.3,77.17 408.4,78.62 408.5,80.07 408.6,81.52 408.7,82.97 408.8,81.98 408.9,81.06 409,80.19 409.1,79.37 409.2,78.6 409.3,77.87 409.4,77.19 409.5,75.92 409.6,73.86 409.7,72.03 409.8,70.42 409.9,68.98 410,67.71 410.1,66.57 410.2,65.54 410.3,64.56 410.4,63.69 410.5,62.9 410.6,62.13 410.7,61.25 410.8,60.48 410.9,59.77 411,58.66 411.1,57.77 411.2,57.11 411.3,56.74 411.4,56.42 411.5,56.21 411.6,56.04 411.7,55.88 411.8,55.74 411.9,55.61 412,55.51 412.1,55.44 412.2,55.37 412.3,55.3 412.4,55.24 412.5,55.18 412.6,55.13 412.7,55.09 412.8,55.03 412.9,54.97 413,54.91 413.1,54.86 413.2,54.81 413.3,54.77 413.4,54.73 413.5,54.68 413.6,54.62 413.7,54.57 413.8,54.53 413.9,54.49 414,54.45 414.1,54.41 414.2,54.38 414.3,54.35 414.4,54.32 414.5,54.3 414.6,54.27 414.7,54.24 414.8,54.21 414.9,54.19 415,54.16 415.1,54.14 415.2,54.13 415.3,54.11 415.4,54.1 415.5,54.08 415.6,54.07 415.7,54.06 415.8,54.05 415.9,54.04 416,54.04 416.1,54.03 416.2,54.02 416.3,54.02 416.4,54.01 416.5,54.01 416.6,54.01 416.7,54 416.8,54 416.9,54 417,53.99 417.1,53.99 417.2,53.99 417.3,53.99 417.4,53.99 417.5,53.98 417.6,53.98 417.7,53.98 417.8,53.98 417.9,53.98 418,53.98 418.1,53.98 418.2,55.25 418.3,56.52 418.4,57.79 418.5,59.06 418.6,60.33 418.7,61.6 418.8,62.87 418.9,64.14 419,65.4 419.1,66.67 419.2,67.94 419.3,69.21 419.4,70.48 419.5,71.75 419.6,73.02 419.7,74.29 419.8,75.56 419.9,76.83 420,78.1 420.1,79.37 420.2,78.51 420.3,77.7 420.4,76.93 420.5,76.22 420.6,75.54 420.7,74.91 420.8,74.31 420.9,73.2 421,71.39 421.1,69.79 421.2,68.38 421.3,67.12 421.4,66 421.5,65 421.6,64.1 421.7,63.25 421.8,62.48 421.9,61.8 422,61.12 422.1,60.34 422.2,59.67 422.3,59.05 422.4,58.08 422.5,57.3 422.6,56.72 422.7,56.4 422.8,56.12 422.9,55.93 423,55.78 423.1,55.65 423.2,55.52 423.3,55.41 423.4,55.32 423.5,55.26 423.6,55.2 423.7,55.14 423.8,55.08 423.9,55.03 424,54.99 424.1,54.95 424.2,54.9 424.3,54.85 424.4,54.8 424.5,54.75 424.6,54.71 424.7,54.67 424.8,54.63 424.9,54.59 425,54.54 425.1,54.5 425.2,54.46 425.3,54.42 425.4,54.39 425.5,54.36 425.6,54.33 425.7,54.3 425.8,54.28 425.9,54.26 426,54.24 426.1,54.21 426.2,54.18 426.3,54.16 426.4,54.14 426.5,54.12 426.6,54.11 426.7,54.09 426.8,54.08 426.9,54.07 427,54.06 427.1,54.05 427.2,54.04 427.3,54.03 427.4,54.03 427.5,54.02 427.6,54.02 427.7,54.01 427.8,54.01 427.9,54 428,54 428.1,54 428.2,54 428.3,53.99 428.4,53.99 428.5,53.99 428.6,53.99 428.7,53.99 428.8,53.98 428.9,53.98 429,53.98 429.1,53.98 429.2,53.98 429.3,53.98 429.4,53.98 429.5,53.98 429.6,53.98 429.7,55.07 429.8,56.16 429.9,57.25 430,58.34 430.1,59.43 430.2,60.52 430.3,61.61 430.4,62.7 430.5,63.78 430.6,64.87 430.7,65.96 430.8,67.05 430.9,68.14 431,69.23 431.1,70.32 431.2,71.41 431.3,72.5 431.4,73.59 431.5,74.68 431.6,75.77 431.7,75.03 431.8,74.33 431.9,73.68 432,73.07 432.1,72.49 432.2,71.94 432.3,71.43 432.4,70.47 432.5,68.92 432.6,67.55 432.7,66.34 432.8,65.26 432.9,64.3 433,63.44 433.1,62.67 433.2,61.93 433.3,61.28 433.4,60.69 433.5,60.11 433.6,59.44 433.7,58.86 433.8,58.34 433.9,57.49 434,56.83 434.1,56.33 434.2,56.06 434.3,55.82 434.4,55.66 434.5,55.53 434.6,55.41 434.7,55.3 434.8,55.21 434.9,55.13 435,55.08 435.1,55.02 435.2,54.97 435.3,54.93 435.4,54.88 435.5,54.84 435.6,54.81 435.7,54.77 435.8,54.72 435.9,54.68 436,54.64 436.1,54.61 436.2,54.57 436.3,54.54 436.4,54.5 436.5,54.46 436.6,54.43 436.7,54.39 436.8,54.36 436.9,54.33 437,54.31 437.1,54.28 437.2,54.26 437.3,54.24 437.4,54.22 437.5,54.2 437.6,54.17 437.7,54.15 437.8,54.13 437.9,54.12 438,54.1 438.1,54.09 438.2,54.08 438.3,54.07 438.4,54.06 438.5,54.05 438.6,54.04 438.7,54.03 438.8,54.03 438.9,54.02 439,54.02 439.1,54.01 439.2,54.01 439.3,54 439.4,54 439.5,54 439.6,54 439.7,53.99 439.8,53.99 439.9,53.99 440,53.99 440.1,53.99 440.2,53.98 440.3,53.98 440.4,53.98 440.5,53.98 440.6,53.98 440.7,53.98 440.8,53.98 440.9,53.98 441,53.98 441.1,54.81 441.2,55.64 441.3,56.47 441.4,57.3 441.5,58.13 441.6,58.96 441.7,59.79 441.8,60.62 441.9,61.45 442,62.28 442.1,63.1 442.2,63.93 442.3,64.76 442.4,65.59 442.5,66.42 442.6,67.25 442.7,68.08 442.8,68.91 442.9,69.74 443,70.57 443.1,70.01 443.2,69.48 443.3,68.98 443.4,68.51 443.5,68.07 443.6,67.66 443.7,67.26 443.8,66.54 443.9,65.36 444,64.31 444.1,63.39 444.2,62.57 444.3,61.84 444.4,61.18 444.5,60.59 444.6,60.03 444.7,59.53 444.8,59.09 444.9,58.64 445,58.14 445.1,57.7 445.2,57.3 445.3,56.66 445.4,56.15 445.5,55.77 445.6,55.56 445.7,55.38 445.8,55.26 445.9,55.16 446,55.07 446.1,54.99 446.2,54.91 446.3,54.86 446.4,54.81 446.5,54.77 446.6,54.74 446.7,54.7 446.8,54.67 446.9,54.64 447,54.61 447.1,54.58 447.2,54.54 447.3,54.51 447.4,54.48 447.5,54.46 447.6,54.43 447.7,54.4 447.8,54.38 447.9,54.35 448,54.32 448.1,54.29 448.2,54.27 448.3,54.25 448.4,54.23 448.5,54.21 448.6,54.19 448.7,54.17 448.8,54.16 448.9,54.15 449,54.13 449.1,54.11 449.2,54.1 449.3,54.08 449.4,54.07 449.5,54.06 449.6,54.05 449.7,54.04 449.8,54.04 449.9,54.03 450,54.02 450.1,54.02 450.2,54.01 450.3,54.01 450.4,54.01 450.5,54 450.6,54 450.7,54 450.8,53.99 450.9,53.99 451,53.99 451.1,53.99 451.2,53.99 451.3,53.99 451.4,53.98 451.5,53.98 451.6,53.98 451.7,53.98 451.8,53.98 451.9,53.98 452,53.98 452.1,53.98 452.2,53.98 452.3,53.98 452.4,53.98 452.5,54.67 452.6,55.36 452.7,56.05 452.8,56.74 452.9,57.43 453,58.12 453.1,58.81 453.2,59.5 453.3,60.19 453.4,60.88 453.5,61.56 453.6,62.25 453.7,62.94 453.8,63.63 453.9,64.32 454,65.01 454.1,65.7 454.2,66.39 454.3,67.08 454.4,67.77 454.5,67.3 454.6,66.86 454.7,66.45 454.8,66.06 454.9,65.69 455,65.35 455.1,65.02 455.2,64.42 455.3,63.44 455.4,62.57 455.5,61.8 455.6,61.12 455.7,60.51 455.8,59.97 455.9,59.48 456,59.01 456.1,58.6 456.2,58.22 456.3,57.86 456.4,57.44 456.5,57.07 456.6,56.74 456.7,56.2 456.8,55.78 456.9,55.47 457,55.29 457.1,55.14 457.2,55.04 457.3,54.96 457.4,54.88 457.5,54.82 457.6,54.76 457.7,54.71 457.8,54.67 457.9,54.64 458,54.61 458.1,54.58 458.2,54.55 458.3,54.53 458.4,54.51 458.5,54.48 458.6,54.45 458.7,54.42 458.8,54.4 458.9,54.37 459,54.35 459.1,54.33 459.2,54.31 459.3,54.28 459.4,54.26 459.5,54.24 459.6,54.22 459.7,54.2 459.8,54.18 459.9,54.17 460,54.15 460.1,54.14 460.2,54.13 460.3,54.12 460.4,54.1 460.5,54.09 460.6,54.08 460.7,54.07 460.8,54.06 460.9,54.05 461,54.04 461.1,54.03 461.2,54.03 461.3,54.02 461.4,54.02 461.5,54.01 461.6,54.01 461.7,54 461.8,54 461.9,54 462,54 462.1,53.99 462.2,53.99 462.3,53.99 462.4,53.99 462.5,53.99 462.6,53.99 462.7,53.98 462.8,53.98 462.9,53.98 463,53.98 463.1,53.98 463.2,53.98 463.3,53.98 463.4,53.98 463.5,53.98 463.6,53.98 463.7,53.98 463.8,53.98 463.9,54.78 464,55.58 464.1,56.38 464.2,57.18 464.3,57.98 464.4,58.78 464.5,59.58 464.6,60.38 464.7,61.18 464.8,61.98 464.9,62.78 465,63.58 465.1,64.37 465.2,65.17 465.3,65.97 465.4,66.77 465.5,67.57 465.6,68.37 465.7,69.17 465.8,69.97 465.9,69.43 466,68.92 466.1,68.44 466.2,67.99 466.3,67.56 466.4,67.16 466.5,66.78 466.6,66.08 466.7,64.94 466.8,63.94 466.9,63.05 467,62.26 467.1,61.55 467.2,60.92 467.3,60.35 467.4,59.82 467.5,59.33 467.6,58.9 467.7,58.48 467.8,57.99 467.9,57.56 468,57.18 468.1,56.56 468.2,56.07 468.3,55.71 468.4,55.5 468.5,55.33 468.6,55.21 468.7,55.11 468.8,55.03 468.9,54.95 469,54.88 469.1,54.82 469.2,54.78 469.3,54.74 469.4,54.71 469.5,54.67 469.6,54.64 469.7,54.61 469.8,54.59 469.9,54.56 470,54.52 470.1,54.49 470.2,54.47 470.3,54.44 470.4,54.41 470.5,54.39 470.6,54.36 470.7,54.33 470.8,54.31 470.9,54.28 471,54.26 471.1,54.24 471.2,54.22 471.3,54.2 471.4,54.18 471.5,54.17 471.6,54.15 471.7,54.14 471.8,54.12 471.9,54.11 472,54.09 472.1,54.08 472.2,54.07 472.3,54.06 472.4,54.05 472.5,54.04 472.6,54.04 472.7,54.03 472.8,54.02 472.9,54.02 473,54.01 473.1,54.01 473.2,54.01 473.3,54 473.4,54 473.5,54 473.6,53.99 473.7,53.99 473.8,53.99 473.9,53.99 474,53.99 474.1,53.99 474.2,53.98 474.3,53.98 474.4,53.98 474.5,53.98 474.6,53.98 474.7,53.98 474.8,53.98 474.9,53.98 475,53.98 475.1,53.98 475.2,53.98 475.3,54.51 475.4,55.05 475.5,55.58 475.6,56.12 475.7,56.65 475.8,57.19 475.9,57.72 476,58.26 476.1,58.79 476.2,59.33 476.3,59.86 476.4,60.4 476.5,60.93 476.6,61.47 476.7,62 476.8,62.54 476.9,63.07 477,63.6 477.1,64.14 477.2,64.67 477.3,64.31 477.4,63.97 477.5,63.65 477.6,63.35 477.7,63.06 477.8,62.79 477.9,62.54 478,62.07 478.1,61.31 478.2,60.64 478.3,60.04 478.4,59.51 478.5,59.04 478.6,58.62 478.7,58.24 478.8,57.88 478.9,57.56 479,57.27 479.1,56.99 479.2,56.66 479.3,56.37 479.4,56.12 479.5,55.7 479.6,55.38 479.7,55.13 479.8,55 479.9,54.88 480,54.8 480.1,54.74 480.2,54.68 480.3,54.63 480.4,54.58 480.5,54.54 480.6,54.52 480.7,54.49 480.8,54.47 480.9,54.44 481,54.42 481.1,54.4 481.2,54.39 481.3,54.36 481.4,54.34 481.5,54.32 481.6,54.3 481.7,54.29 481.8,54.27 481.9,54.25 482,54.23 482.1,54.22 482.2,54.2 482.3,54.18 482.4,54.16 482.5,54.15 482.6,54.14 482.7,54.13 482.8,54.11 482.9,54.1 483,54.09 483.1,54.09 483.2,54.07 483.3,54.06 483.4,54.05 483.5,54.05 483.6,54.04 483.7,54.03 483.8,54.03 483.9,54.02 484,54.02 484.1,54.01 484.2,54.01 484.3,54 484.4,54 484.5,54 484.6,54 484.7,53.99 484.8,53.99 484.9,53.99 485,53.99 485.1,53.99 485.2,53.99 485.3,53.98 485.4,53.98 485.5,53.98 485.6,53.98 485.7,53.98 485.8,53.98 485.9,53.98 486,53.98 486.1,53.98 486.2,53.98 486.3,53.98 486.4,53.98 486.5,53.98 486.6,54.54 486.7,55.1 486.8,55.66 486.9,56.22 487,56.78 487.1,57.34 487.2,57.9 487.3,58.46 487.4,59.02 487.5,59.58 487.6,60.14 487.7,60.7 487.8,61.26 487.9,61.82 488,62.38 488.1,62.94 488.2,63.5 488.3,64.06 488.4,64.62 488.5,65.18 488.6,64.79 488.7,64.44 488.8,64.1 488.9,63.78 489,63.49 489.1,63.21 489.2,62.94 489.3,62.45 489.4,61.65 489.5,60.95 489.6,60.33 489.7,59.77 489.8,59.28 489.9,58.84 490,58.44 490.1,58.06 490.2,57.73 490.3,57.42 490.4,57.13 490.5,56.78 490.6,56.49 490.7,56.22 490.8,55.78 490.9,55.44 491,55.19 491.1,55.05 491.2,54.92 491.3,54.84 491.4,54.77 491.5,54.71 491.6,54.66 491.7,54.61 491.8,54.57 491.9,54.54 492,54.51 492.1,54.49 492.2,54.46 492.3,54.44 492.4,54.42 492.5,54.41 492.6,54.38 492.7,54.36 492.8,54.34 492.9,54.32 493,54.3 493.1,54.28 493.2,54.27 493.3,54.25 493.4,54.23 493.5,54.21 493.6,54.19 493.7,54.17 493.8,54.16 493.9,54.15 494,54.13 494.1,54.12 494.2,54.11 494.3,54.1 494.4,54.09 494.5,54.08 494.6,54.07 494.7,54.06 494.8,54.05 494.9,54.04 495,54.03 495.1,54.03 495.2,54.02 495.3,54.02 495.4,54.01 495.5,54.01 495.6,54.01 495.7,54 495.8,54 495.9,54 496,53.99 496.1,53.99 496.2,53.99 496.3,53.99 496.4,53.99 496.5,53.99 496.6,53.98 496.7,53.98 496.8,53.98 496.9,53.98 497,53.98 497.1,53.98 497.2,53.98 497.3,53.98 497.4,53.98 497.5,53.98 497.6,53.98 497.7,53.98 497.8,53.98 497.9,53.98 498,54.69 498.1,55.4 498.2,56.11 498.3,56.82 498.4,57.53 498.5,58.24 498.6,58.95 498.7,59.66 498.8,60.37 498.9,61.08 499,61.79 499.1,62.5 499.2,63.21 499.3,63.92 499.4,64.63 499.5,65.34 499.6,66.05 499.7,66.76 499.8,67.47 499.9,68.18 500,67.69 500.1,67.24 500.2,66.81 500.3,66.41 500.4,66.03 500.5,65.68 500.6,65.34 500.7,64.72 500.8,63.71 500.9,62.82 501,62.03 501.1,61.33 501.2,60.7 501.3,60.14 501.4,59.64 501.5,59.16 501.6,58.73 501.7,58.35 501.8,57.97 501.9,57.54 502,57.16 502.1,56.82 502.2,56.27 502.3,55.84 502.4,55.51 502.5,55.33 502.6,55.18 502.7,55.07 502.8,54.99 502.9,54.91 503,54.84 503.1,54.78 503.2,54.73 503.3,54.69 503.4,54.66 503.5,54.63 503.6,54.6 503.7,54.57 503.8,54.54 503.9,54.52 504,54.49 504.1,54.46 504.2,54.44 504.3,54.41 504.4,54.39 504.5,54.36 504.6,54.34 504.7,54.32 504.8,54.29 504.9,54.27 505,54.25 505.1,54.23 505.2,54.21 505.3,54.19 505.4,54.18 505.5,54.16 505.6,54.15 505.7,54.13 505.8,54.12 505.9,54.11 506,54.09 506.1,54.08 506.2,54.07 506.3,54.06 506.4,54.05 506.5,54.04 506.6,54.04 506.7,54.03 506.8,54.02 506.9,54.02 507,54.01 507.1,54.01 507.2,54.01 507.3,54 507.4,54 507.5,54 507.6,53.99 507.7,53.99 507.8,53.99 507.9,53.99 508,53.99 508.1,53.99 508.2,53.99 508.3,53.98 508.4,53.98 508.5,53.98 508.6,53.98 508.7,53.98 508.8,53.98 508.9,53.98 509,53.98 509.1,53.98 509.2,53.98 509.3,53.98 509.4,54.45 509.5,54.93 509.6,55.4 509.7,55.88 509.8,56.35 509.9,56.83 510,57.3 510.1,57.78 510.2,58.25 510.3,58.73 510.4,59.2 510.5,59.68 510.6,60.15 510.7,60.63 510.8,61.1 510.9,61.58 511,62.05 511.1,62.53 511.2,63 511.3,63.48 511.4,63.15 511.5,62.85 511.6,62.56 511.7,62.3 511.8,62.04 511.9,61.81 512,61.58 512.1,61.16 512.2,60.49 512.3,59.89 512.4,59.36 512.5,58.89 512.6,58.47 512.7,58.1 512.8,57.76 512.9,57.44 513,57.16 513.1,56.9 513.2,56.65 513.3,56.36 513.4,56.11 513.5,55.88 513.6,55.51 513.7,55.22 513.8,55 513.9,54.88 514,54.78 514.1,54.71 514.2,54.65 514.3,54.6 514.4,54.55 514.5,54.51 514.6,54.48 514.7,54.46 514.8,54.43 514.9,54.41 515,54.39 515.1,54.37 515.2,54.35 515.3,54.34 515.4,54.32 515.5,54.3 515.6,54.28 515.7,54.27 515.8,54.25 515.9,54.24 516,54.22 516.1,54.21 516.2,54.19 516.3,54.17 516.4,54.16 516.5,54.14 516.6,54.13 516.7,54.12 516.8,54.11 516.9,54.1 517,54.09 517.1,54.08 517.2,54.07 517.3,54.06 517.4,54.05 517.5,54.05 517.6,54.04 517.7,54.03 517.8,54.03 517.9,54.02 518,54.02 518.1,54.01 518.2,54.01 518.3,54 518.4,54 518.5,54 518.6,54 518.7,53.99 518.8,53.99 518.9,53.99 519,53.99 519.1,53.99 519.2,53.99 519.3,53.98 519.4,53.98 519.5,53.98 519.6,53.98 519.7,53.98 519.8,53.98 519.9,53.98 520,53.98 520.1,53.98 520.2,53.98 520.3,53.98 520.4,53.98 520.5,53.98 520.6,53.98 520.7,53.98 520.8,54.43 520.9,54.89 521,55.34 521.1,55.8 521.2,56.25 521.3,56.71 521.4,57.16 521.5,57.62 521.6,58.07 521.7,58.53 521.8,58.98 521.9,59.44 522,59.89 522.1,60.35 522.2,60.8 522.3,61.26 522.4,61.71 522.5,62.17 522.6,62.62 522.7,63.08 522.8,62.77 522.9,62.47 523,62.2 523.1,61.95 523.2,61.7 523.3,61.48 523.4,61.26 523.5,60.86 523.6,60.21 523.7,59.64 523.8,59.14 523.9,58.69 524,58.29 524.1,57.93 524.2,57.6 524.3,57.3 524.4,57.02 524.5,56.78 524.6,56.54 524.7,56.26 524.8,56.02 524.9,55.8 525,55.45 525.1,55.17 525.2,54.96 525.3,54.84 525.4,54.74 525.5,54.68 525.6,54.62 525.7,54.57 525.8,54.53 525.9,54.49 526,54.46 526.1,54.44 526.2,54.41 526.3,54.39 526.4,54.37 526.5,54.36 526.6,54.34 526.7,54.33 526.8,54.31 526.9,54.29 527,54.27 527.1,54.26 527.2,54.24 527.3,54.23 527.4,54.21 527.5,54.2 527.6,54.18 527.7,54.16 527.8,54.15 527.9,54.14 528,54.13 528.1,54.11 528.2,54.1 528.3,54.09 528.4,54.09 528.5,54.08 528.6,54.07 528.7,54.06 528.8,54.05 528.9,54.04 529,54.04 529.1,54.03 529.2,54.02 529.3,54.02 529.4,54.01 529.5,54.01 529.6,54.01 529.7,54 529.8,54 529.9,54 530,54 530.1,53.99 530.2,53.99 530.3,53.99 530.4,53.99 530.5,53.99 530.6,53.99 530.7,53.98 530.8,53.98 530.9,53.98 531,53.98 531.1,53.98 531.2,53.98 531.3,53.98 531.4,53.98 531.5,53.98 531.6,53.98 531.7,53.98 531.8,53.98 531.9,53.98 532,53.98 532.1,53.98 532.2,54.41 532.3,54.85 532.4,55.28 532.5,55.72 532.6,56.15 532.7,56.59 532.8,57.02 532.9,57.46 533,57.89 533.1,58.33 533.2,58.76 533.3,59.2 533.4,59.63 533.5,60.07 533.6,60.5 533.7,60.94 533.8,61.37 533.9,61.81 534,62.24 534.1,62.68 534.2,62.38 534.3,62.1 534.4,61.84 534.5,61.6 534.6,61.36 534.7,61.15 534.8,60.94 534.9,60.56 535,59.94 535.1,59.39 535.2,58.91 535.3,58.48 535.4,58.1 535.5,57.75 535.6,57.44 535.7,57.15 535.8,56.89 535.9,56.66 536,56.42 536.1,56.16 536.2,55.93 536.3,55.72 536.4,55.38 536.5,55.12 536.6,54.92 536.7,54.81 536.8,54.71 536.9,54.65 537,54.6 537.1,54.55 537.2,54.51 537.3,54.47 537.4,54.44 537.5,54.42 537.6,54.39 537.7,54.37 537.8,54.36 537.9,54.34 538,54.32 538.1,54.31 538.2,54.29 538.3,54.27 538.4,54.26 538.5,54.24 538.6,54.23 538.7,54.21 538.8,54.2 538.9,54.19 539,54.17 539.1,54.16 539.2,54.14 539.3,54.13 539.4,54.12 539.5,54.11 539.6,54.1 539.7,54.09 539.8,54.08 539.9,54.07 540,54.07 540.1,54.06 540.2,54.05 540.3,54.04 540.4,54.03 540.5,54.03 540.6,54.02 540.7,54.02 540.8,54.01 540.9,54.01 541,54.01 541.1,54 541.2,54 541.3,54 541.4,53.99 541.5,53.99 541.6,53.99 541.7,53.99 541.8,53.99 541.9,53.99 542,53.99 542.1,53.98 542.2,53.98 542.3,53.98 542.4,53.98 542.5,53.98 542.6,53.98 542.7,53.98 542.8,53.98 542.9,53.98 543,53.98 543.1,53.98 543.2,53.98 543.3,53.98 543.4,53.98 543.5,53.98 543.6,54.38 543.7,54.78 543.8,55.18 543.9,55.58 544,55.98 544.1,56.38 544.2,56.78 544.3,57.18 544.4,57.58 544.5,57.98 544.6,58.38 544.7,58.78 544.8,59.18 544.9,59.58 545,59.98 545.1,60.38 545.2,60.78 545.3,61.18 545.4,61.58 545.5,61.98 545.6,61.7 545.7,61.45 545.8,61.21 545.9,60.98 546,60.77 546.1,60.57 546.2,60.38 546.3,60.03 546.4,59.46 546.5,58.96 546.6,58.51 546.7,58.12 546.8,57.76 546.9,57.45 547,57.17 547.1,56.9 547.2,56.66 547.3,56.44 547.4,56.23 547.5,55.98 547.6,55.77 547.7,55.58 547.8,55.27 547.9,55.02 548,54.84 548.1,54.74 548.2,54.65 548.3,54.59 548.4,54.55 548.5,54.5 548.6,54.46 548.7,54.43 548.8,54.4 548.9,54.38 549,54.36 549.1,54.34 549.2,54.33 549.3,54.31 549.4,54.3 549.5,54.28 549.6,54.27 549.7,54.25 549.8,54.24 549.9,54.22 550,54.21 550.1,54.2 550.2,54.18 550.3,54.17 550.4,54.16 550.5,54.14 550.6,54.13 550.7,54.12 550.8,54.11 550.9,54.1 551,54.09 551.1,54.08 551.2,54.07 551.3,54.07 551.4,54.06 551.5,54.05 551.6,54.04 551.7,54.03 551.8,54.03 551.9,54.02 552,54.02 552.1,54.01 552.2,54.01 552.3,54.01 552.4,54 552.5,54 552.6,54 552.7,54 552.8,53.99 552.9,53.99 553,53.99 553.1,53.99 553.2,53.99 553.3,53.99 553.4,53.98 553.5,53.98 553.6,53.98 553.7,53.98 553.8,53.98 553.9,53.98 554,53.98 554.1,53.98 554.2,53.98 554.3,53.98 554.4,53.98 554.5,53.98 554.6,53.98 554.7,53.98 554.8,53.98 554.9,53.98 555,53.98 555.1,53.98 555.2,53.98 555.3,53.98" fill="none" stroke="#000" stroke-width="2.7" stroke-linejoin="round" stroke-linecap="butt"/>
<line x1="154.6" y1="831" x2="154.6" y2="1122.2" stroke="#000" stroke-width="2.2"/>
<line x1="153.5" y1="1113.2" x2="577.4" y2="1113.2" stroke="#000" stroke-width="2.2"/>
<line x1="145.6" y1="846.9" x2="154.6" y2="846.9" stroke="#000" stroke-width="2.1"/>
<text x="143.9" y="856.2" font-size="25.5" text-anchor="end">0</text>
<line x1="145.6" y1="900.7" x2="154.6" y2="900.7" stroke="#000" stroke-width="2.1"/>
<text x="143.9" y="910" font-size="25.5" text-anchor="end">-0.5</text>
<line x1="145.6" y1="954.5" x2="154.6" y2="954.5" stroke="#000" stroke-width="2.1"/>
<text x="143.9" y="963.8" font-size="25.5" text-anchor="end">-1</text>
<line x1="145.6" y1="1008.3" x2="154.6" y2="1008.3" stroke="#000" stroke-width="2.1"/>
<text x="143.9" y="1017.6" font-size="25.5" text-anchor="end">-1.5</text>
<line x1="145.6" y1="1062.1" x2="154.6" y2="1062.1" stroke="#000" stroke-width="2.1"/>
<text x="143.9" y="1071.4" font-size="25.5" text-anchor="end">-2</text>
<line x1="149.3" y1="873.8" x2="154.6" y2="873.8" stroke="#000" stroke-width="2.1"/>
<line x1="149.3" y1="927.6" x2="154.6" y2="927.6" stroke="#000" stroke-width="2.1"/>
<line x1="149.3" y1="981.4" x2="154.6" y2="981.4" stroke="#000" stroke-width="2.1"/>
<line x1="149.3" y1="1035.2" x2="154.6" y2="1035.2" stroke="#000" stroke-width="2.1"/>
<line x1="149.3" y1="1089" x2="154.6" y2="1089" stroke="#000" stroke-width="2.1"/>
<line x1="244.6" y1="1113.2" x2="244.6" y2="1122.2" stroke="#000" stroke-width="2.1"/>
<line x1="334.6" y1="1113.2" x2="334.6" y2="1122.2" stroke="#000" stroke-width="2.1"/>
<line x1="424.6" y1="1113.2" x2="424.6" y2="1122.2" stroke="#000" stroke-width="2.1"/>
<line x1="514.6" y1="1113.2" x2="514.6" y2="1122.2" stroke="#000" stroke-width="2.1"/>
<line x1="199.6" y1="1113.2" x2="199.6" y2="1118.7" stroke="#000" stroke-width="2.1"/>
<line x1="289.6" y1="1113.2" x2="289.6" y2="1118.7" stroke="#000" stroke-width="2.1"/>
<line x1="379.6" y1="1113.2" x2="379.6" y2="1118.7" stroke="#000" stroke-width="2.1"/>
<line x1="469.6" y1="1113.2" x2="469.6" y2="1118.7" stroke="#000" stroke-width="2.1"/>
<line x1="559.6" y1="1113.2" x2="559.6" y2="1118.7" stroke="#000" stroke-width="2.1"/>
<text x="154.6" y="1147.3" font-size="25.5" text-anchor="middle">0</text>
<text x="244.6" y="1147.3" font-size="25.5" text-anchor="middle">50</text>
<text x="334.6" y="1147.3" font-size="25.5" text-anchor="middle">100</text>
<text x="424.6" y="1147.3" font-size="25.5" text-anchor="middle">150</text>
<text x="514.6" y="1147.3" font-size="25.5" text-anchor="middle">200</text>
<text x="351.6" y="1180.5" font-size="24" text-anchor="middle" stroke-width="0.5">Time (min)</text>
<text transform="translate(84 972.6) rotate(-90)" font-size="24" text-anchor="middle" stroke-width="0.5">DP (µW)</text>
<polyline points="155.1,846.9 155.2,846.9 155.3,846.9 155.4,846.9 155.5,846.9 155.6,846.9 155.7,846.9 155.8,846.9 155.9,846.9 156,846.9 156.1,846.9 156.2,846.9 156.3,846.9 156.4,846.9 156.5,846.9 156.6,846.9 156.7,846.9 156.8,846.9 156.9,846.9 157,846.9 157.1,846.9 157.2,846.9 157.3,846.9 157.4,846.9 157.5,846.9 157.6,846.9 157.7,873.51 157.8,900.12 157.9,926.73 158,953.34 158.1,979.96 158.2,1006.57 158.3,1033.18 158.4,1059.79 158.5,1086.4 158.6,1081.43 158.7,1076.56 158.8,1071.79 158.9,1067.12 159,1062.55 159.1,1058.07 159.2,1053.69 159.3,1049.4 159.4,1045.19 159.5,1041.08 159.6,1037.04 159.7,1027.53 159.8,1014.44 159.9,1002.3 160,991.03 160.1,980.59 160.2,970.9 160.3,961.92 160.4,953.58 160.5,945.85 160.6,938.33 160.7,931.26 160.8,924.73 160.9,918.71 161,911.87 161.1,904.79 161.2,898.48 161.3,890.59 161.4,881.58 161.5,874.44 161.6,870.41 161.7,867.25 161.8,865.14 161.9,863.43 162,861.88 162.1,860.47 162.2,859.42 162.3,858.59 162.4,857.82 162.5,857.1 162.6,856.43 162.7,855.91 162.8,855.44 162.9,854.99 163,854.57 163.1,854.16 163.2,853.78 163.3,853.42 163.4,853.08 163.5,852.69 163.6,852.28 163.7,851.9 163.8,851.56 163.9,851.25 164,850.96 164.1,850.71 164.2,850.48 164.3,850.28 164.4,850.12 164.5,849.98 164.6,849.87 164.7,849.74 164.8,849.62 164.9,849.54 165,849.49 165.1,849.46 165.2,849.46 165.3,849.48 165.4,849.5 165.5,849.52 165.6,849.55 165.7,849.56 165.8,849.55 165.9,849.52 166,849.47 166.1,849.4 166.2,849.3 166.3,849.18 166.4,849.04 166.5,848.88 166.6,848.71 166.7,848.54 166.8,848.36 166.9,848.18 167,848.01 167.1,847.85 167.2,847.7 167.3,847.57 167.4,847.46 167.5,847.36 167.6,847.27 167.7,847.2 167.8,847.14 167.9,846.39 168,845.65 168.1,844.92 168.2,844.2 168.3,843.48 168.4,842.76 168.5,842.05 168.6,841.34 168.7,840.64 168.8,839.93 168.9,870.59 169,901.26 169.1,931.92 169.2,960.25 169.3,988.58 169.4,1016.91 169.5,1045.25 169.6,1073.58 169.7,1101.91 169.8,1096.61 169.9,1091.43 170,1086.35 170.1,1081.38 170.2,1076.51 170.3,1071.74 170.4,1067.08 170.5,1062.51 170.6,1058.03 170.7,1053.65 170.8,1049.35 170.9,1039.22 171,1025.28 171.1,1012.36 171.2,1000.37 171.3,989.25 171.4,978.93 171.5,969.36 171.6,960.49 171.7,952.26 171.8,944.25 171.9,936.72 172,929.77 172.1,923.36 172.2,916.08 172.3,908.54 172.4,901.82 172.5,893.42 172.6,883.83 172.7,876.22 172.8,871.93 172.9,868.57 173,866.33 173.1,864.5 173.2,862.85 173.3,861.35 173.4,860.24 173.5,859.36 173.6,858.53 173.7,857.76 173.8,857.05 173.9,856.5 174,856 174.1,855.52 174.2,855.06 174.3,854.63 174.4,854.23 174.5,853.84 174.6,853.48 174.7,853.05 174.8,852.61 174.9,852.2 175,851.82 175.1,851.46 175.2,851.13 175.3,850.83 175.4,850.55 175.5,850.28 175.6,850.04 175.7,849.81 175.8,849.6 175.9,849.36 176,849.11 176.1,848.89 176.2,848.68 176.3,848.5 176.4,848.34 176.5,848.2 176.6,848.06 176.7,847.95 176.8,847.84 176.9,847.75 177,847.66 177.1,847.58 177.2,847.51 177.3,847.45 177.4,847.4 177.5,847.35 177.6,847.3 177.7,847.26 177.8,847.23 177.9,847.19 178,847.16 178.1,847.14 178.2,847.11 178.3,847.09 178.4,847.07 178.5,847.05 178.6,847.04 178.7,847.02 178.8,847.01 178.9,847 179,846.99 179.1,846.98 179.2,846.97 179.3,846.66 179.4,846.36 179.5,846.05 179.6,845.75 179.7,845.44 179.8,845.14 179.9,844.83 180,844.53 180.1,844.23 180.2,843.93 180.3,873.48 180.4,903.03 180.5,932.59 180.6,961.14 180.7,989.69 180.8,1018.25 180.9,1046.8 181,1075.36 181.1,1103.91 181.2,1098.58 181.3,1093.35 181.4,1088.23 181.5,1083.22 181.6,1078.32 181.7,1073.51 181.8,1068.81 181.9,1064.2 182,1059.69 182.1,1055.27 182.2,1050.95 182.3,1040.73 182.4,1026.69 182.5,1013.66 182.6,1001.57 182.7,990.37 182.8,979.97 182.9,970.33 183,961.38 183.1,953.09 183.2,945.02 183.3,937.43 183.4,930.42 183.5,923.96 183.6,916.63 183.7,909.03 183.8,902.26 183.9,893.79 184,884.13 184.1,876.46 184.2,872.14 184.3,868.75 184.4,866.48 184.5,864.64 184.6,862.98 184.7,861.47 184.8,860.35 184.9,859.46 185,858.63 185.1,857.85 185.2,857.13 185.3,856.58 185.4,856.07 185.5,855.59 185.6,855.13 185.7,854.7 185.8,854.29 185.9,853.9 186,853.53 186.1,853.11 186.2,852.66 186.3,852.24 186.4,851.86 186.5,851.5 186.6,851.17 186.7,850.86 186.8,850.58 186.9,850.31 187,850.07 187.1,849.84 187.2,849.63 187.3,849.38 187.4,849.13 187.5,848.91 187.6,848.7 187.7,848.52 187.8,848.36 187.9,848.21 188,848.08 188.1,847.96 188.2,847.85 188.3,847.76 188.4,847.67 188.5,847.59 188.6,847.52 188.7,847.46 188.8,847.41 188.9,847.35 189,847.31 189.1,847.27 189.2,847.23 189.3,847.2 189.4,847.17 189.5,847.14 189.6,847.12 189.7,847.09 189.8,847.07 189.9,847.06 190,847.04 190.1,847.03 190.2,847.01 190.3,847 190.4,846.99 190.5,846.98 190.6,846.48 190.7,845.97 190.8,845.46 190.9,844.96 191,844.45 191.1,843.95 191.2,843.44 191.3,842.94 191.4,842.44 191.5,841.93 191.6,872.05 191.7,902.17 191.8,932.29 191.9,960.75 192,989.2 192.1,1017.65 192.2,1046.11 192.3,1074.56 192.4,1103.02 192.5,1097.7 192.6,1092.49 192.7,1087.39 192.8,1082.4 192.9,1077.51 193,1072.72 193.1,1068.03 193.2,1063.44 193.3,1058.95 193.4,1054.55 193.5,1050.24 193.6,1040.06 193.7,1026.06 193.8,1013.08 193.9,1001.04 194,989.87 194.1,979.51 194.2,969.9 194.3,960.99 194.4,952.72 194.5,944.68 194.6,937.12 194.7,930.14 194.8,923.7 194.9,916.39 195,908.82 195.1,902.07 195.2,893.63 195.3,884 195.4,876.36 195.5,872.05 195.6,868.67 195.7,866.42 195.8,864.59 195.9,862.93 196,861.42 196.1,860.3 196.2,859.42 196.3,858.59 196.4,857.82 196.5,857.1 196.6,856.55 196.7,856.04 196.8,855.56 196.9,855.11 197,854.68 197.1,854.27 197.2,853.88 197.3,853.51 197.4,853.09 197.5,852.64 197.6,852.23 197.7,851.85 197.8,851.49 197.9,851.16 198,850.85 198.1,850.57 198.2,850.31 198.3,850.06 198.4,849.83 198.5,849.62 198.6,849.38 198.7,849.13 198.8,848.9 198.9,848.7 199,848.52 199.1,848.36 199.2,848.21 199.3,848.08 199.4,847.96 199.5,847.85 199.6,847.76 199.7,847.67 199.8,847.6 199.9,847.53 200,847.46 200.1,847.41 200.2,847.36 200.3,847.31 200.4,847.27 200.5,847.24 200.6,847.2 200.7,847.17 200.8,847.14 200.9,847.12 201,847.1 201.1,847.08 201.2,847.06 201.3,847.04 201.4,847.03 201.5,847.02 201.6,847.01 201.7,847 201.8,846.99 201.9,846.98 202,846.72 202.1,846.47 202.2,846.21 202.3,845.96 202.4,845.7 202.5,845.45 202.6,845.19 202.7,844.94 202.8,844.69 202.9,844.43 203,873.78 203.1,903.12 203.2,932.46 203.3,960.97 203.4,989.48 203.5,1017.99 203.6,1046.5 203.7,1075.01 203.8,1103.52 203.9,1098.19 204,1092.98 204.1,1087.87 204.2,1082.86 204.3,1077.96 204.4,1073.17 204.5,1068.47 204.6,1063.87 204.7,1059.37 204.8,1054.96 204.9,1050.64 205,1040.44 205.1,1026.42 205.2,1013.41 205.3,1001.34 205.4,990.15 205.5,979.77 205.6,970.14 205.7,961.21 205.8,952.93 205.9,944.87 206,937.3 206.1,930.3 206.2,923.85 206.3,916.53 206.4,908.94 206.5,902.18 206.6,893.72 206.7,884.08 206.8,876.42 206.9,872.1 207,868.72 207.1,866.46 207.2,864.63 207.3,862.96 207.4,861.46 207.5,860.33 207.6,859.45 207.7,858.62 207.8,857.85 207.9,857.12 208,856.57 208.1,856.07 208.2,855.58 208.3,855.13 208.4,854.7 208.5,854.29 208.6,853.9 208.7,853.53 208.8,853.1 208.9,852.66 209,852.24 209.1,851.86 209.2,851.5 209.3,851.17 209.4,850.87 209.5,850.58 209.6,850.32 209.7,850.07 209.8,849.84 209.9,849.63 210,849.39 210.1,849.14 210.2,848.91 210.3,848.71 210.4,848.53 210.5,848.36 210.6,848.22 210.7,848.08 210.8,847.97 210.9,847.86 211,847.76 211.1,847.68 211.2,847.6 211.3,847.53 211.4,847.47 211.5,847.41 211.6,847.36 211.7,847.32 211.8,847.28 211.9,847.24 212,847.21 212.1,847.18 212.2,847.15 212.3,847.12 212.4,847.1 212.5,847.08 212.6,847.07 212.7,847.05 212.8,847.04 212.9,847.02 213,847.01 213.1,847 213.2,846.99 213.3,846.98 213.4,846.98 213.5,846.97 213.6,846.97 213.7,846.96 213.8,846.96 213.9,846.95 214,846.95 214.1,846.94 214.2,846.94 214.3,846.94 214.4,846.94 214.5,875.48 214.6,904.02 214.7,932.56 214.8,961.11 214.9,989.65 215,1018.19 215.1,1046.74 215.2,1075.28 215.3,1103.82 215.4,1098.49 215.5,1093.27 215.6,1088.15 215.7,1083.14 215.8,1078.24 215.9,1073.44 216,1068.73 216.1,1064.13 216.2,1059.62 216.3,1055.2 216.4,1050.88 216.5,1040.67 216.6,1026.63 216.7,1013.61 216.8,1001.53 216.9,990.32 217,979.93 217.1,970.29 217.2,961.35 217.3,953.06 217.4,944.99 217.5,937.41 217.6,930.4 217.7,923.95 217.8,916.61 217.9,909.02 218,902.25 218.1,893.78 218.2,884.12 218.3,876.46 218.4,872.14 218.5,868.75 218.6,866.49 218.7,864.65 218.8,862.99 218.9,861.48 219,860.35 219.1,859.47 219.2,858.64 219.3,857.86 219.4,857.14 219.5,856.59 219.6,856.08 219.7,855.6 219.8,855.14 219.9,854.71 220,854.3 220.1,853.91 220.2,853.54 220.3,853.12 220.4,852.67 220.5,852.26 220.6,851.87 220.7,851.51 220.8,851.18 220.9,850.88 221,850.59 221.1,850.33 221.2,850.08 221.3,849.85 221.4,849.64 221.5,849.39 221.6,849.14 221.7,848.92 221.8,848.71 221.9,848.53 222,848.37 222.1,848.22 222.2,848.09 222.3,847.97 222.4,847.87 222.5,847.77 222.6,847.68 222.7,847.61 222.8,847.54 222.9,847.47 223,847.42 223.1,847.37 223.2,847.32 223.3,847.28 223.4,847.25 223.5,847.21 223.6,847.18 223.7,847.15 223.8,847.13 223.9,847.11 224,847.09 224.1,847.07 224.2,847.05 224.3,847.04 224.4,847.03 224.5,847.02 224.6,847.01 224.7,847 224.8,846.99 224.9,846.98 225,846.98 225.1,846.97 225.2,846.96 225.3,846.96 225.4,846.96 225.5,846.95 225.6,846.95 225.7,846.95 225.8,846.94 225.9,846.94 226,875.68 226.1,904.43 226.2,933.17 226.3,961.91 226.4,990.65 226.5,1019.4 226.6,1048.14 226.7,1076.88 226.8,1105.63 226.9,1100.26 227,1095 227.1,1089.85 227.2,1084.8 227.3,1079.86 227.4,1075.03 227.5,1070.29 227.6,1065.66 227.7,1061.11 227.8,1056.67 227.9,1052.31 228,1042.03 228.1,1027.89 228.2,1014.78 228.3,1002.61 228.4,991.33 228.5,980.87 228.6,971.16 228.7,962.16 228.8,953.81 228.9,945.68 229,938.04 229.1,930.99 229.2,924.49 229.3,917.1 229.4,909.46 229.5,902.64 229.6,894.11 229.7,884.39 229.8,876.67 229.9,872.32 230,868.91 230.1,866.63 230.2,864.78 230.3,863.1 230.4,861.59 230.5,860.45 230.6,859.56 230.7,858.73 230.8,857.95 230.9,857.23 231,856.69 231.1,856.19 231.2,855.73 231.3,855.31 231.4,854.94 231.5,854.62 231.6,854.36 231.7,854.17 231.8,853.98 231.9,853.83 232,853.79 232.1,853.86 232.2,854.02 232.3,854.25 232.4,854.55 232.5,854.86 232.6,855.16 232.7,855.4 232.8,855.55 232.9,855.58 233,855.42 233.1,855.08 233.2,854.61 233.3,854.03 233.4,853.35 233.5,852.62 233.6,851.88 233.7,851.14 233.8,850.45 233.9,849.82 234,849.28 234.1,848.81 234.2,848.43 234.3,848.12 234.4,847.88 234.5,847.69 234.6,847.55 234.7,847.44 234.8,847.36 234.9,847.29 235,847.24 235.1,847.2 235.2,847.17 235.3,847.14 235.4,847.11 235.5,847.09 235.6,847.08 235.7,847.06 235.8,847.05 235.9,847.03 236,847.02 236.1,847.01 236.2,847 236.3,846.99 236.4,846.99 236.5,846.98 236.6,846.97 236.7,846.97 236.8,846.96 236.9,846.96 237,846.96 237.1,846.95 237.2,846.95 237.3,846.95 237.4,875.6 237.5,904.25 237.6,932.91 237.7,961.56 237.8,990.22 237.9,1018.87 238,1047.52 238.1,1076.18 238.2,1104.83 238.3,1099.48 238.4,1094.23 238.5,1089.1 238.6,1084.07 238.7,1079.15 238.8,1074.33 238.9,1069.61 239,1064.98 239.1,1060.46 239.2,1056.02 239.3,1051.68 239.4,1041.43 239.5,1027.34 239.6,1014.26 239.7,1002.14 239.8,990.89 239.9,980.46 240,970.78 240.1,961.81 240.2,953.48 240.3,945.38 240.4,937.77 240.5,930.74 240.6,924.25 240.7,916.89 240.8,909.27 240.9,902.47 241,893.97 241.1,884.28 241.2,876.58 241.3,872.25 241.4,868.85 241.5,866.57 241.6,864.73 241.7,863.06 241.8,861.54 241.9,860.41 242,859.52 242.1,858.69 242.2,857.91 242.3,857.19 242.4,856.64 242.5,856.13 242.6,855.64 242.7,855.18 242.8,854.75 242.9,854.34 243,853.95 243.1,853.58 243.2,853.15 243.3,852.7 243.4,852.28 243.5,851.9 243.6,851.54 243.7,851.21 243.8,850.9 243.9,850.61 244,850.35 244.1,850.1 244.2,849.87 244.3,849.66 244.4,849.41 244.5,849.16 244.6,848.93 244.7,848.73 244.8,848.55 244.9,848.38 245,848.24 245.1,848.1 245.2,847.98 245.3,847.88 245.4,847.78 245.5,847.69 245.6,847.62 245.7,847.55 245.8,847.48 245.9,847.43 246,847.38 246.1,847.33 246.2,847.29 246.3,847.25 246.4,847.22 246.5,847.19 246.6,847.16 246.7,847.14 246.8,847.12 246.9,847.1 247,847.08 247.1,847.06 247.2,847.05 247.3,847.04 247.4,847.02 247.5,847.01 247.6,847.01 247.7,847 247.8,846.99 247.9,846.98 248,846.98 248.1,846.97 248.2,846.97 248.3,846.96 248.4,846.96 248.5,846.96 248.6,846.95 248.7,846.95 248.8,846.95 248.9,875.84 249,904.72 249.1,933.61 249.2,962.5 249.3,991.39 249.4,1020.27 249.5,1049.16 249.6,1078.05 249.7,1106.94 249.8,1101.54 249.9,1096.25 250,1091.08 250.1,1086.01 250.2,1081.04 250.3,1076.18 250.4,1071.42 250.5,1066.76 250.6,1062.2 250.7,1057.73 250.8,1053.35 250.9,1043.02 251,1028.81 251.1,1015.63 251.2,1003.41 251.3,992.07 251.4,981.55 251.5,971.79 251.6,962.75 251.7,954.35 251.8,946.19 251.9,938.51 252,931.42 252.1,924.89 252.2,917.47 252.3,909.78 252.4,902.93 252.5,894.36 252.6,884.59 252.7,876.83 252.8,872.46 252.9,869.03 253,866.74 253.1,864.88 253.2,863.19 253.3,861.67 253.4,860.53 253.5,859.63 253.6,858.79 253.7,858.01 253.8,857.28 253.9,856.72 254,856.2 254.1,855.72 254.2,855.25 254.3,854.82 254.4,854.4 254.5,854.01 254.6,853.64 254.7,853.2 254.8,852.75 254.9,852.33 255,851.94 255.1,851.58 255.2,851.25 255.3,850.94 255.4,850.65 255.5,850.38 255.6,850.13 255.7,849.9 255.8,849.69 255.9,849.44 256,849.18 256.1,848.95 256.2,848.75 256.3,848.57 256.4,848.4 256.5,848.25 256.6,848.12 256.7,848 256.8,847.89 256.9,847.79 257,847.71 257.1,847.63 257.2,847.56 257.3,847.49 257.4,847.44 257.5,847.39 257.6,847.34 257.7,847.3 257.8,847.26 257.9,847.23 258,847.2 258.1,847.17 258.2,847.14 258.3,847.12 258.4,847.1 258.5,847.08 258.6,847.07 258.7,847.05 258.8,847.04 258.9,847.03 259,847.02 259.1,847.01 259.2,847 259.3,847 259.4,846.99 259.5,846.98 259.6,846.98 259.7,846.97 259.8,846.97 259.9,846.97 260,846.96 260.1,846.96 260.2,875.61 260.3,904.27 260.4,932.92 260.5,961.57 260.6,990.23 260.7,1018.88 260.8,1047.53 260.9,1076.19 261,1104.84 261.1,1099.49 261.2,1094.24 261.3,1089.11 261.4,1084.08 261.5,1079.16 261.6,1074.34 261.7,1069.61 261.8,1064.99 261.9,1060.46 262,1056.03 262.1,1051.69 262.2,1041.44 262.3,1027.35 262.4,1014.27 262.5,1002.15 262.6,990.9 262.7,980.47 262.8,970.79 262.9,961.82 263,953.49 263.1,945.39 263.2,937.77 263.3,930.75 263.4,924.26 263.5,916.9 263.6,909.28 263.7,902.48 263.8,893.98 263.9,884.29 264,876.59 264.1,872.25 264.2,868.85 264.3,866.58 264.4,864.74 264.5,863.07 264.6,861.55 264.7,860.42 264.8,859.53 264.9,858.7 265,857.92 265.1,857.2 265.2,856.65 265.3,856.13 265.4,855.65 265.5,855.19 265.6,854.76 265.7,854.35 265.8,853.96 265.9,853.59 266,853.16 266.1,852.71 266.2,852.29 266.3,851.91 266.4,851.55 266.5,851.22 266.6,850.91 266.7,850.62 266.8,850.36 266.9,850.11 267,849.88 267.1,849.67 267.2,849.42 267.3,849.17 267.4,848.94 267.5,848.74 267.6,848.56 267.7,848.39 267.8,848.24 267.9,848.11 268,847.99 268.1,847.89 268.2,847.79 268.3,847.7 268.4,847.63 268.5,847.56 268.6,847.49 268.7,847.44 268.8,847.39 268.9,847.34 269,847.3 269.1,847.26 269.2,847.23 269.3,847.2 269.4,847.17 269.5,847.15 269.6,847.13 269.7,847.11 269.8,847.09 269.9,847.07 270,847.06 270.1,847.04 270.2,847.03 270.3,847.02 270.4,847.01 270.5,847.01 270.6,847 270.7,846.99 270.8,846.99 270.9,846.98 271,846.98 271.1,846.97 271.2,846.97 271.3,846.97 271.4,846.96 271.5,846.96 271.6,875.56 271.7,904.16 271.8,932.75 271.9,961.35 272,989.95 272.1,1018.55 272.2,1047.15 272.3,1075.75 272.4,1104.35 272.5,1099 272.6,1093.77 272.7,1088.64 272.8,1083.62 272.9,1078.71 273,1073.9 273.1,1069.19 273.2,1064.57 273.3,1060.06 273.4,1055.63 273.5,1051.3 273.6,1041.07 273.7,1027 273.8,1013.95 273.9,1001.85 274,990.62 274.1,980.21 274.2,970.55 274.3,961.6 274.4,953.29 274.5,945.21 274.6,937.6 274.7,930.59 274.8,924.12 274.9,916.77 275,909.16 275.1,902.38 275.2,893.89 275.3,884.22 275.4,876.54 275.5,872.21 275.6,868.82 275.7,866.55 275.8,864.71 275.9,863.04 276,861.53 276.1,860.4 276.2,859.51 276.3,858.68 276.4,857.91 276.5,857.18 276.6,856.63 276.7,856.12 276.8,855.64 276.9,855.18 277,854.75 277.1,854.33 277.2,853.95 277.3,853.58 277.4,853.15 277.5,852.7 277.6,852.29 277.7,851.9 277.8,851.54 277.9,851.21 278,850.9 278.1,850.62 278.2,850.35 278.3,850.11 278.4,849.88 278.5,849.67 278.6,849.42 278.7,849.17 278.8,848.94 278.9,848.74 279,848.56 279.1,848.39 279.2,848.25 279.3,848.11 279.4,848 279.5,847.89 279.6,847.79 279.7,847.71 279.8,847.63 279.9,847.56 280,847.5 280.1,847.44 280.2,847.39 280.3,847.34 280.4,847.3 280.5,847.27 280.6,847.23 280.7,847.2 280.8,847.18 280.9,847.15 281,847.13 281.1,847.11 281.2,847.09 281.3,847.08 281.4,847.06 281.5,847.05 281.6,847.04 281.7,847.03 281.8,847.02 281.9,847.01 282,847 282.1,847 282.2,846.99 282.3,846.99 282.4,846.98 282.5,846.98 282.6,846.97 282.7,846.97 282.8,846.97 282.9,846.96 283,875.47 283.1,903.98 283.2,932.49 283.3,961 283.4,989.51 283.5,1018.02 283.6,1046.53 283.7,1075.04 283.8,1103.55 283.9,1098.22 284,1093.01 284.1,1087.9 284.2,1082.89 284.3,1077.99 284.4,1073.2 284.5,1068.5 284.6,1063.9 284.7,1059.4 284.8,1054.99 284.9,1050.67 285,1040.47 285.1,1026.45 285.2,1013.44 285.3,1001.37 285.4,990.18 285.5,979.8 285.6,970.17 285.7,961.24 285.8,952.96 285.9,944.9 286,937.33 286.1,930.33 286.2,923.88 286.3,916.56 286.4,908.97 286.5,902.21 286.6,893.75 286.7,884.11 286.8,876.45 286.9,872.13 287,868.75 287.1,866.49 287.2,864.66 287.3,862.99 287.4,861.49 287.5,860.36 287.6,859.48 287.7,858.65 287.8,857.88 287.9,857.15 288,856.6 288.1,856.1 288.2,855.61 288.3,855.16 288.4,854.73 288.5,854.32 288.6,853.93 288.7,853.56 288.8,853.14 288.9,852.69 289,852.27 289.1,851.89 289.2,851.53 289.3,851.2 289.4,850.9 289.5,850.61 289.6,850.35 289.7,850.1 289.8,849.87 289.9,849.66 290,849.42 290.1,849.17 290.2,848.94 290.3,848.74 290.4,848.56 290.5,848.39 290.6,848.25 290.7,848.11 290.8,848 290.9,847.89 291,847.79 291.1,847.71 291.2,847.63 291.3,847.56 291.4,847.5 291.5,847.44 291.6,847.39 291.7,847.35 291.8,847.31 291.9,847.27 292,847.24 292.1,847.21 292.2,847.18 292.3,847.15 292.4,847.13 292.5,847.11 292.6,847.1 292.7,847.08 292.8,847.07 292.9,847.05 293,847.04 293.1,847.03 293.2,847.02 293.3,847.01 293.4,847.01 293.5,847 293.6,847 293.7,846.99 293.8,846.99 293.9,846.98 294,846.98 294.1,846.97 294.2,846.97 294.3,846.97 294.4,875.37 294.5,903.76 294.6,932.16 294.7,960.56 294.8,988.96 294.9,1017.36 295,1045.76 295.1,1074.16 295.2,1102.56 295.3,1097.25 295.4,1092.05 295.5,1086.96 295.6,1081.98 295.7,1077.1 295.8,1072.32 295.9,1067.64 296,1063.06 296.1,1058.57 296.2,1054.18 296.3,1049.88 296.4,1039.72 296.5,1025.75 296.6,1012.79 296.7,1000.78 296.8,989.63 296.9,979.29 297,969.7 297.1,960.8 297.2,952.55 297.3,944.53 297.4,936.98 297.5,930.01 297.6,923.59 297.7,916.29 297.8,908.73 297.9,902 298,893.57 298.1,883.97 298.2,876.34 298.3,872.04 298.4,868.67 298.5,866.42 298.6,864.59 298.7,862.94 298.8,861.44 298.9,860.32 299,859.43 299.1,858.61 299.2,857.84 299.3,857.12 299.4,856.57 299.5,856.06 299.6,855.59 299.7,855.13 299.8,854.7 299.9,854.29 300,853.91 300.1,853.54 300.2,853.12 300.3,852.67 300.4,852.26 300.5,851.88 300.6,851.52 300.7,851.19 300.8,850.89 300.9,850.6 301,850.34 301.1,850.09 301.2,849.87 301.3,849.66 301.4,849.41 301.5,849.16 301.6,848.94 301.7,848.74 301.8,848.55 301.9,848.39 302,848.25 302.1,848.11 302.2,848 302.3,847.89 302.4,847.8 302.5,847.71 302.6,847.63 302.7,847.56 302.8,847.5 302.9,847.45 303,847.4 303.1,847.35 303.2,847.31 303.3,847.27 303.4,847.24 303.5,847.21 303.6,847.18 303.7,847.16 303.8,847.14 303.9,847.12 304,847.1 304.1,847.08 304.2,847.07 304.3,847.06 304.4,847.05 304.5,847.04 304.6,847.03 304.7,847.02 304.8,846.46 304.9,845.91 305,845.35 305.1,844.79 305.2,844.24 305.3,843.69 305.4,843.13 305.5,842.58 305.6,842.03 305.7,841.47 305.8,871.64 305.9,901.8 306,931.97 306.1,960.3 306.2,988.63 306.3,1016.96 306.4,1045.29 306.5,1073.63 306.6,1101.96 306.7,1096.66 306.8,1091.48 306.9,1086.4 307,1081.43 307.1,1076.56 307.2,1071.8 307.3,1067.13 307.4,1062.56 307.5,1058.08 307.6,1053.7 307.7,1049.41 307.8,1039.27 307.9,1025.33 308,1012.41 308.1,1000.42 308.2,989.3 308.3,978.98 308.4,969.41 308.5,960.54 308.6,952.31 308.7,944.3 308.8,936.77 308.9,929.82 309,923.41 309.1,916.13 309.2,908.59 309.3,901.88 309.4,893.47 309.5,883.88 309.6,876.27 309.7,871.99 309.8,868.62 309.9,866.38 310,864.55 310.1,862.9 310.2,861.41 310.3,860.29 310.4,859.41 310.5,858.58 310.6,857.82 310.7,857.1 310.8,856.55 310.9,856.05 311,855.57 311.1,855.12 311.2,854.69 311.3,854.28 311.4,853.89 311.5,853.53 311.6,853.1 311.7,852.66 311.8,852.25 311.9,851.87 312,851.51 312.1,851.19 312.2,850.88 312.3,850.6 312.4,850.33 312.5,850.09 312.6,849.87 312.7,849.66 312.8,849.41 312.9,849.16 313,848.94 313.1,848.74 313.2,848.56 313.3,848.39 313.4,848.25 313.5,848.12 313.6,848 313.7,847.89 313.8,847.8 313.9,847.71 314,847.64 314.1,847.57 314.2,847.5 314.3,847.45 314.4,847.4 314.5,847.35 314.6,847.31 314.7,847.28 314.8,847.24 314.9,847.21 315,847.19 315.1,847.16 315.2,847.14 315.3,847.12 315.4,847.1 315.5,847.09 315.6,847.07 315.7,847.06 315.8,847.05 315.9,847.04 316,846.73 316.1,846.42 316.2,846.12 316.3,845.81 316.4,845.5 316.5,845.2 316.6,844.89 316.7,844.59 316.8,844.29 316.9,843.98 317,873.28 317.1,902.58 317.2,931.88 317.3,960.17 317.4,988.47 317.5,1016.77 317.6,1045.07 317.7,1073.37 317.8,1101.67 317.9,1096.38 318,1091.2 318.1,1086.13 318.2,1081.16 318.3,1076.3 318.4,1071.54 318.5,1066.87 318.6,1062.31 318.7,1057.84 318.8,1053.46 318.9,1049.17 319,1039.05 319.1,1025.13 319.2,1012.22 319.3,1000.25 319.4,989.15 319.5,978.86 319.6,969.33 319.7,960.51 319.8,952.36 319.9,944.46 320,937.08 320.1,930.32 320.2,924.16 320.3,917.18 320.4,909.98 320.5,903.63 320.6,895.6 320.7,886.35 320.8,879.01 320.9,874.9 321,871.6 321.1,869.3 321.2,867.31 321.3,865.39 321.4,863.57 321.5,862.1 321.6,860.86 321.7,859.7 321.8,858.64 321.9,857.68 322,856.95 322.1,856.31 322.2,855.73 322.3,855.21 322.4,854.74 322.5,854.31 322.6,853.91 322.7,853.53 322.8,853.11 322.9,852.66 323,852.25 323.1,851.87 323.2,851.51 323.3,851.18 323.4,850.88 323.5,850.6 323.6,850.34 323.7,850.09 323.8,849.87 323.9,849.66 324,849.41 324.1,849.16 324.2,848.94 324.3,848.74 324.4,848.56 324.5,848.4 324.6,848.25 324.7,848.12 324.8,848 324.9,847.9 325,847.8 325.1,847.72 325.2,847.64 325.3,847.57 325.4,847.51 325.5,847.45 325.6,847.4 325.7,847.36 325.8,847.32 325.9,847.28 326,847.25 326.1,847.22 326.2,847.19 326.3,847.17 326.4,847.14 326.5,847.12 326.6,847.11 326.7,847.09 326.8,847.08 326.9,847.07 327,847.05 327.1,847.04 327.2,847.03 327.3,847.03 327.4,846.72 327.5,846.41 327.6,846.11 327.7,845.8 327.8,845.5 327.9,845.19 328,844.89 328.1,844.59 328.2,844.28 328.3,843.98 328.4,873.28 328.5,902.58 328.6,931.88 328.7,960.17 328.8,988.47 328.9,1016.77 329,1045.07 329.1,1073.37 329.2,1101.67 329.3,1096.38 329.4,1091.2 329.5,1086.13 329.6,1081.16 329.7,1076.3 329.8,1071.54 329.9,1066.88 330,1062.31 330.1,1057.84 330.2,1053.46 330.3,1049.18 330.4,1039.05 330.5,1025.13 330.6,1012.22 330.7,1000.25 330.8,989.14 330.9,978.84 331,969.28 331.1,960.42 331.2,952.19 331.3,944.2 331.4,936.67 331.5,929.73 331.6,923.33 331.7,916.06 331.8,908.53 331.9,901.82 332,893.42 332.1,883.85 332.2,876.25 332.3,871.97 332.4,868.61 332.5,866.36 332.6,864.54 332.7,862.89 332.8,861.4 332.9,860.28 333,859.4 333.1,858.58 333.2,857.81 333.3,857.09 333.4,856.55 333.5,856.05 333.6,855.57 333.7,855.11 333.8,854.69 333.9,854.28 334,853.89 334.1,853.53 334.2,853.11 334.3,852.66 334.4,852.25 334.5,851.87 334.6,851.52 334.7,851.19 334.8,850.88 334.9,850.6 335,850.34 335.1,850.1 335.2,849.87 335.3,849.66 335.4,849.42 335.5,849.17 335.6,848.94 335.7,848.74 335.8,848.56 335.9,848.4 336,848.25 336.1,848.12 336.2,848.01 336.3,847.9 336.4,847.81 336.5,847.72 336.6,847.64 336.7,847.57 336.8,847.51 336.9,847.46 337,847.41 337.1,847.36 337.2,847.32 337.3,847.29 337.4,847.25 337.5,847.22 337.6,847.19 337.7,847.17 337.8,847.15 337.9,847.13 338,847.11 338.1,847.1 338.2,847.08 338.3,847.07 338.4,847.06 338.5,847.05 338.6,847.04 338.7,847.03 338.8,846.72 338.9,846.42 339,846.11 339.1,845.81 339.2,845.5 339.3,845.2 339.4,844.89 339.5,844.59 339.6,844.29 339.7,843.99 339.8,873.14 339.9,902.29 340,931.45 340.1,959.6 340.2,987.75 340.3,1015.91 340.4,1044.06 340.5,1072.22 340.6,1100.37 340.7,1095.11 340.8,1089.96 340.9,1084.91 341,1079.97 341.1,1075.13 341.2,1070.4 341.3,1065.76 341.4,1061.22 341.5,1056.77 341.6,1052.41 341.7,1048.15 341.8,1038.08 341.9,1024.23 342,1011.38 342.1,999.47 342.2,988.42 342.3,978.17 342.4,968.66 342.5,959.84 342.6,951.66 342.7,943.7 342.8,936.22 342.9,929.31 343,922.94 343.1,915.71 343.2,908.22 343.3,901.54 343.4,893.19 343.5,883.66 343.6,876.1 343.7,871.84 343.8,868.5 343.9,866.27 344,864.46 344.1,862.81 344.2,861.33 344.3,860.22 344.4,859.34 344.5,858.52 344.6,857.76 344.7,857.05 344.8,856.51 344.9,856 345,855.53 345.1,855.08 345.2,854.65 345.3,854.25 345.4,853.86 345.5,853.5 345.6,853.08 345.7,852.64 345.8,852.23 345.9,851.85 346,851.5 346.1,851.17 346.2,850.87 346.3,850.59 346.4,850.33 346.5,850.08 346.6,849.86 346.7,849.65 346.8,849.41 346.9,849.16 347,848.94 347.1,848.74 347.2,848.56 347.3,848.4 347.4,848.25 347.5,848.12 347.6,848 347.7,847.9 347.8,847.81 347.9,847.72 348,847.64 348.1,847.58 348.2,847.51 348.3,847.46 348.4,847.41 348.5,847.36 348.6,847.32 348.7,847.29 348.8,847.26 348.9,847.23 349,847.2 349.1,847.17 349.2,847.15 349.3,847.13 349.4,847.11 349.5,847.1 349.6,847.09 349.7,847.07 349.8,847.06 349.9,847.05 350,847.04 350.1,847.04 350.2,847.03 350.3,847.02 350.4,847.02 350.5,847.01 350.6,847.01 350.7,847 350.8,847 350.9,847 351,846.99 351.1,846.99 351.2,874.94 351.3,902.9 351.4,930.85 351.5,958.8 351.6,986.76 351.7,1014.71 351.8,1042.67 351.9,1070.62 352,1098.58 352.1,1093.35 352.2,1088.24 352.3,1083.23 352.4,1078.32 352.5,1073.52 352.6,1068.81 352.7,1064.21 352.8,1059.7 352.9,1055.28 353,1050.96 353.1,1046.72 353.2,1036.72 353.3,1022.97 353.4,1010.22 353.5,998.39 353.6,987.42 353.7,977.24 353.8,967.8 353.9,959.04 354,950.92 354.1,943.02 354.2,935.59 354.3,928.73 354.4,922.41 354.5,915.23 354.6,907.79 354.7,901.16 354.8,892.87 354.9,883.41 355,875.9 355.1,871.67 355.2,868.35 355.3,866.13 355.4,864.34 355.5,862.71 355.6,861.23 355.7,860.13 355.8,859.26 355.9,858.45 356,857.69 356.1,856.98 356.2,856.44 356.3,855.94 356.4,855.47 356.5,855.02 356.6,854.6 356.7,854.2 356.8,853.82 356.9,853.46 357,853.04 357.1,852.6 357.2,852.2 357.3,851.82 357.4,851.47 357.5,851.15 357.6,850.85 357.7,850.57 357.8,850.31 357.9,850.07 358,849.84 358.1,849.64 358.2,849.39 358.3,849.15 358.4,848.93 358.5,848.73 358.6,848.55 358.7,848.39 358.8,848.25 358.9,848.12 359,848 359.1,847.9 359.2,847.8 359.3,847.72 359.4,847.64 359.5,847.58 359.6,847.51 359.7,847.46 359.8,847.41 359.9,847.37 360,847.33 360.1,847.29 360.2,847.26 360.3,847.23 360.4,847.2 360.5,847.18 360.6,847.15 360.7,847.14 360.8,847.12 360.9,847.1 361,847.09 361.1,847.08 361.2,847.07 361.3,847.06 361.4,847.05 361.5,847.04 361.6,847.03 361.7,847.03 361.8,847.02 361.9,847.01 362,847.01 362.1,847.01 362.2,847 362.3,847 362.4,847 362.5,846.99 362.6,874.57 362.7,902.15 362.8,929.72 362.9,957.3 363,984.87 363.1,1012.45 363.2,1040.03 363.3,1067.6 363.4,1095.18 363.5,1090.03 363.6,1084.98 363.7,1080.04 363.8,1075.2 363.9,1070.46 364,1065.82 364.1,1061.28 364.2,1056.83 364.3,1052.47 364.4,1048.21 364.5,1044.03 364.6,1034.16 364.7,1020.6 364.8,1008.02 364.9,996.35 365,985.52 365.1,975.48 365.2,966.17 365.3,957.53 365.4,949.52 365.5,941.73 365.6,934.4 365.7,927.63 365.8,921.39 365.9,914.31 366,906.97 366.1,900.43 366.2,892.25 366.3,882.92 366.4,875.51 366.5,871.34 366.6,868.07 366.7,865.88 366.8,864.11 366.9,862.5 367,861.04 367.1,859.95 367.2,859.1 367.3,858.3 367.4,857.55 367.5,856.85 367.6,856.32 367.7,855.83 367.8,855.36 367.9,854.92 368,854.5 368.1,854.1 368.2,853.73 368.3,853.37 368.4,852.96 368.5,852.53 368.6,852.13 368.7,851.76 368.8,851.41 368.9,851.09 369,850.8 369.1,850.52 369.2,850.27 369.3,850.03 369.4,849.81 369.5,849.6 369.6,849.37 369.7,849.12 369.8,848.91 369.9,848.71 370,848.53 370.1,848.38 370.2,848.23 370.3,848.11 370.4,847.99 370.5,847.89 370.6,847.8 370.7,847.71 370.8,847.64 370.9,847.57 371,847.51 371.1,847.46 371.2,847.41 371.3,847.36 371.4,847.33 371.5,847.29 371.6,847.26 371.7,847.23 371.8,847.2 371.9,847.18 372,847.16 372.1,847.14 372.2,847.12 372.3,847.11 372.4,847.09 372.5,847.08 372.6,847.07 372.7,847.06 372.8,847.05 372.9,847.04 373,847.04 373.1,847.03 373.2,847.02 373.3,847.02 373.4,847.01 373.5,847.01 373.6,847.01 373.7,847 373.8,847 373.9,847 374,873.85 374.1,900.7 374.2,927.56 374.3,954.41 374.4,981.27 374.5,1008.12 374.6,1034.98 374.7,1061.83 374.8,1088.68 374.9,1083.67 375,1078.75 375.1,1073.94 375.2,1069.23 375.3,1064.61 375.4,1060.09 375.5,1055.67 375.6,1051.34 375.7,1047.09 375.8,1042.94 375.9,1038.87 376,1029.27 376.1,1016.06 376.2,1003.8 376.3,992.44 376.4,981.9 376.5,972.12 376.6,963.05 376.7,954.64 376.8,946.84 376.9,939.25 377,932.11 377.1,925.52 377.2,919.45 377.3,912.55 377.4,905.4 377.5,899.04 377.6,891.07 377.7,881.98 377.8,874.77 377.9,870.71 378,867.52 378.1,865.39 378.2,863.66 378.3,862.1 378.4,860.68 378.5,859.62 378.6,858.78 378.7,858 378.8,857.27 378.9,856.59 379,856.08 379.1,855.6 379.2,855.15 379.3,854.72 379.4,854.31 379.5,853.92 379.6,853.56 379.7,853.21 379.8,852.81 379.9,852.39 380,852 380.1,851.64 380.2,851.3 380.3,850.99 380.4,850.7 380.5,850.43 380.6,850.18 380.7,849.95 380.8,849.74 380.9,849.54 381,849.31 381.1,849.07 381.2,848.86 381.3,848.67 381.4,848.5 381.5,848.34 381.6,848.21 381.7,848.08 381.8,847.97 381.9,847.87 382,847.78 382.1,847.7 382.2,847.63 382.3,847.56 382.4,847.5 382.5,847.45 382.6,847.4 382.7,847.36 382.8,847.32 382.9,847.29 383,847.25 383.1,847.23 383.2,847.2 383.3,847.18 383.4,847.16 383.5,847.14 383.6,847.12 383.7,847.11 383.8,847.09 383.9,847.08 384,847.07 384.1,847.06 384.2,847.05 384.3,847.04 384.4,847.04 384.5,847.03 384.6,847.03 384.7,847.02 384.8,847.02 384.9,847.01 385,847.01 385.1,847.01 385.2,847 385.3,847 385.4,871.99 385.5,896.98 385.6,921.96 385.7,946.95 385.8,971.94 385.9,996.92 386,1021.91 386.1,1046.9 386.2,1071.89 386.3,1067.22 386.4,1062.65 386.5,1058.17 386.6,1053.78 386.7,1049.49 386.8,1045.29 386.9,1041.17 387,1037.14 387.1,1033.19 387.2,1029.32 387.3,1025.54 387.4,1016.6 387.5,1004.31 387.6,992.91 387.7,982.33 387.8,972.52 387.9,963.43 388,954.99 388.1,947.16 388.2,939.9 388.3,932.84 388.4,926.2 388.5,920.07 388.6,914.41 388.7,908 388.8,901.35 388.9,895.42 389,888.01 389.1,879.55 389.2,872.84 389.3,869.06 389.4,866.1 389.5,864.11 389.6,862.51 389.7,861.05 389.8,859.73 389.9,858.74 390,857.97 390.1,857.24 390.2,856.56 390.3,855.93 390.4,855.45 390.5,855 390.6,854.58 390.7,854.18 390.8,853.8 390.9,853.44 391,853.1 391.1,852.78 391.2,852.41 391.3,852.02 391.4,851.65 391.5,851.32 391.6,851.01 391.7,850.72 391.8,850.45 391.9,850.2 392,849.97 392.1,849.75 392.2,849.55 392.3,849.37 392.4,849.15 392.5,848.93 392.6,848.73 392.7,848.56 392.8,848.4 392.9,848.25 393,848.12 393.1,848.01 393.2,847.9 393.3,847.81 393.4,847.73 393.5,847.65 393.6,847.58 393.7,847.52 393.8,847.47 393.9,847.42 394,847.38 394.1,847.34 394.2,847.3 394.3,847.27 394.4,847.24 394.5,847.21 394.6,847.19 394.7,847.17 394.8,847.15 394.9,847.13 395,847.12 395.1,847.1 395.2,847.09 395.3,847.08 395.4,847.07 395.5,847.06 395.6,847.05 395.7,847.04 395.8,847.04 395.9,847.03 396,847.03 396.1,847.02 396.2,847.02 396.3,847.02 396.4,847.01 396.5,847.01 396.6,847.01 396.7,847 396.8,868.24 396.9,889.47 397,910.7 397.1,931.93 397.2,953.16 397.3,974.39 397.4,995.63 397.5,1016.86 397.6,1038.09 397.7,1034.12 397.8,1030.24 397.9,1026.43 398,1022.71 398.1,1019.06 398.2,1015.49 398.3,1011.99 398.4,1008.56 398.5,1005.21 398.6,1001.92 398.7,998.71 398.8,991.11 398.9,980.67 399,970.98 399.1,962 399.2,953.66 399.3,945.93 399.4,938.76 399.5,932.11 399.6,925.94 399.7,919.94 399.8,914.3 399.9,909.09 400,904.28 400.1,898.83 400.2,893.18 400.3,888.15 400.4,881.85 400.5,874.66 400.6,868.96 400.7,865.75 400.8,863.23 400.9,861.54 401,860.18 401.1,858.94 401.2,857.82 401.3,856.98 401.4,856.32 401.5,855.7 401.6,855.13 401.7,854.59 401.8,854.18 401.9,853.8 402,853.44 402.1,853.1 402.2,852.78 402.3,852.48 402.4,852.19 402.5,851.91 402.6,851.6 402.7,851.26 402.8,850.96 402.9,850.67 403,850.41 403.1,850.16 403.2,849.93 403.3,849.72 403.4,849.52 403.5,849.34 403.6,849.17 403.7,849.01 403.8,848.83 403.9,848.64 404,848.47 404.1,848.32 404.2,848.19 404.3,848.07 404.4,847.96 404.5,847.86 404.6,847.77 404.7,847.69 404.8,847.62 404.9,847.56 405,847.5 405.1,847.45 405.2,847.4 405.3,847.36 405.4,847.32 405.5,847.29 405.6,847.26 405.7,847.23 405.8,847.21 405.9,847.18 406,847.16 406.1,847.14 406.2,847.13 406.3,847.11 406.4,847.1 406.5,847.09 406.6,847.08 406.7,847.07 406.8,847.06 406.9,847.05 407,847.05 407.1,847.04 407.2,847.03 407.3,847.03 407.4,847.02 407.5,847.02 407.6,847.02 407.7,847.01 407.8,847.01 407.9,847.01 408,847.01 408.1,847.01 408.2,847 408.3,859.74 408.4,872.47 408.5,885.2 408.6,897.93 408.7,910.66 408.8,923.4 408.9,936.13 409,948.86 409.1,961.59 409.2,958.93 409.3,956.34 409.4,953.82 409.5,951.38 409.6,949.01 409.7,946.71 409.8,944.47 409.9,942.3 410,940.18 410.1,938.13 410.2,933.6 410.3,927.03 410.4,920.99 410.5,915.44 410.6,910.34 410.7,905.64 410.8,901.32 410.9,897.34 411,893.67 411.1,890.08 411.2,886.77 411.3,883.73 411.4,880.94 411.5,877.63 411.6,874.38 411.7,871.5 411.8,867.79 411.9,863.69 412,860.41 412.1,858.46 412.2,857.01 412.3,855.95 412.4,855.17 412.5,854.46 412.6,853.82 412.7,853.23 412.8,852.86 412.9,852.51 413,852.18 413.1,851.87 413.2,851.55 413.3,851.31 413.4,851.08 413.5,850.86 413.6,850.66 413.7,850.47 413.8,850.28 413.9,850.11 414,849.95 414.1,849.76 414.2,849.56 414.3,849.37 414.4,849.2 414.5,849.04 414.6,848.89 414.7,848.76 414.8,848.63 414.9,848.51 415,848.4 415.1,848.3 415.2,848.21 415.3,848.09 415.4,847.98 415.5,847.88 415.6,847.79 415.7,847.71 415.8,847.64 415.9,847.57 416,847.51 416.1,847.46 416.2,847.41 416.3,847.37 416.4,847.33 416.5,847.3 416.6,847.27 416.7,847.24 416.8,847.21 416.9,847.19 417,847.17 417.1,847.15 417.2,847.14 417.3,847.12 417.4,847.11 417.5,847.1 417.6,847.08 417.7,847.07 417.8,847.07 417.9,847.06 418,847.05 418.1,847.04 418.2,847.04 418.3,847.03 418.4,847.03 418.5,847.03 418.6,848.76 418.7,850.72 418.8,852.68 418.9,854.64 419,856.61 419.1,858.57 419.2,860.53 419.3,862.5 419.4,864.46 419.5,866.42 419.6,868.38 419.7,870.35 419.8,872.31 419.9,874.28 420,876.24 420.1,878.2 420.2,880.17 420.3,882.13 420.4,884.1 420.5,882.92 420.6,881.81 420.7,880.77 420.8,879.78 420.9,878.84 421,877.96 421.1,877.12 421.2,876.32 421.3,874.04 421.4,871.68 421.5,869.58 421.6,867.69 421.7,866.01 421.8,864.49 421.9,863.13 422,861.89 422.1,860.71 422.2,859.64 422.3,858.68 422.4,857.81 422.5,856.72 422.6,855.74 422.7,854.87 422.8,853.75 422.9,852.53 423,851.55 423.1,850.88 423.2,850.45 423.3,850.07 423.4,849.83 423.5,849.63 423.6,849.44 423.7,849.27 423.8,849.11 423.9,848.98 424,848.89 424.1,848.8 424.2,848.72 424.3,848.65 424.4,848.57 424.5,848.47 424.6,848.39 424.7,848.32 424.8,848.25 424.9,848.18 425,848.12 425.1,848.06 425.2,848 425.3,847.95 425.4,847.89 425.5,847.82 425.6,847.76 425.7,847.71 425.8,847.66 425.9,847.61 426,847.56 426.1,847.52 426.2,847.49 426.3,847.45 426.4,847.42 426.5,847.39 426.6,847.35 426.7,847.31 426.8,847.28 426.9,847.25 427,847.23 427.1,847.2 427.2,847.18 427.3,847.16 427.4,847.15 427.5,847.13 427.6,847.12 427.7,847.1 427.8,847.09 427.9,847.08 428,847.07 428.1,847.07 428.2,847.06 428.3,847.05 428.4,847.05 428.5,847.04 428.6,847.04 428.7,847.03 428.8,847.03 428.9,847.02 429,847.02 429.1,847.02 429.2,847.02 429.3,847.01 429.4,847.01 429.5,847.01 429.6,847.01 429.7,847.01 429.8,847 429.9,847 430,847.69 430.1,848.37 430.2,849.06 430.3,849.74 430.4,850.42 430.5,851.11 430.6,851.79 430.7,852.48 430.8,853.16 430.9,853.85 431,854.53 431.1,855.22 431.2,855.9 431.3,856.59 431.4,857.27 431.5,857.96 431.6,858.64 431.7,859.33 431.8,860.01 431.9,860.69 432,860.25 432.1,859.82 432.2,859.43 432.3,859.05 432.4,858.7 432.5,858.37 432.6,858.06 432.7,857.73 432.8,856.75 432.9,855.89 433,855.13 433.1,854.44 433.2,853.83 433.3,853.29 433.4,852.8 433.5,852.34 433.6,851.92 433.7,851.53 433.8,851.19 433.9,850.85 434,850.45 434.1,850.11 434.2,849.8 434.3,849.33 434.4,848.91 434.5,848.57 434.6,848.38 434.7,848.23 434.8,848.1 434.9,848.02 435,847.95 435.1,847.88 435.2,847.82 435.3,847.77 435.4,847.72 435.5,847.69 435.6,847.66 435.7,847.63 435.8,847.6 435.9,847.58 436,847.54 436.1,847.51 436.2,847.48 436.3,847.46 436.4,847.43 436.5,847.41 436.6,847.39 436.7,847.37 436.8,847.35 436.9,847.32 437,847.3 437.1,847.28 437.2,847.26 437.3,847.24 437.4,847.22 437.5,847.21 437.6,847.19 437.7,847.18 437.8,847.16 437.9,847.15 438,847.14 438.1,847.13 438.2,847.11 438.3,847.1 438.4,847.09 438.5,847.08 438.6,847.07 438.7,847.06 438.8,847.06 438.9,847.05 439,847.04 439.1,847.04 439.2,847.04 439.3,847.03 439.4,847.03 439.5,847.02 439.6,847.02 439.7,847.02 439.8,847.02 439.9,847.01 440,847.01 440.1,847.01 440.2,847.01 440.3,847.01 440.4,847.01 440.5,847 440.6,847 440.7,847 440.8,847 440.9,847 441,847 441.1,847 441.2,847 441.3,847.42 441.4,847.84 441.5,848.26 441.6,848.68 441.7,849.1 441.8,849.52 441.9,849.94 442,850.36 442.1,850.78 442.2,851.2 442.3,851.62 442.4,852.04 442.5,852.46 442.6,852.88 442.7,853.3 442.8,853.72 442.9,854.14 443,854.56 443.1,854.97 443.2,855.39 443.3,855.12 443.4,854.86 443.5,854.62 443.6,854.39 443.7,854.17 443.8,853.97 443.9,853.78 444,853.58 444.1,852.98 444.2,852.45 444.3,851.98 444.4,851.56 444.5,851.19 444.6,850.85 444.7,850.55 444.8,850.27 444.9,850.01 445,849.78 445.1,849.57 445.2,849.36 445.3,849.11 445.4,848.9 445.5,848.72 445.6,848.42 445.7,848.17 445.8,847.96 445.9,847.84 446,847.75 446.1,847.67 446.2,847.63 446.3,847.58 446.4,847.54 446.5,847.5 446.6,847.47 446.7,847.44 446.8,847.42 446.9,847.4 447,847.38 447.1,847.37 447.2,847.35 447.3,847.33 447.4,847.31 447.5,847.29 447.6,847.28 447.7,847.26 447.8,847.25 447.9,847.24 448,847.22 448.1,847.21 448.2,847.2 448.3,847.18 448.4,847.17 448.5,847.16 448.6,847.14 448.7,847.13 448.8,847.12 448.9,847.11 449,847.11 449.1,847.1 449.2,847.09 449.3,847.08 449.4,847.08 449.5,847.07 449.6,847.06 449.7,847.05 449.8,847.05 449.9,847.04 450,847.04 450.1,847.03 450.2,847.03 450.3,847.03 450.4,847.02 450.5,847.02 450.6,847.02 450.7,847.01 450.8,847.01 450.9,847.01 451,847.01 451.1,847.01 451.2,847.01 451.3,847.01 451.4,847 451.5,847 451.6,847 451.7,847 451.8,847 451.9,847 452,847 452.1,847 452.2,847 452.3,847 452.4,847 452.5,847 452.6,847 452.7,847 452.8,847.29 452.9,847.59 453,847.88 453.1,848.18 453.2,848.47 453.3,848.77 453.4,849.06 453.5,849.36 453.6,849.65 453.7,849.95 453.8,850.24 453.9,850.54 454,850.83 454.1,851.13 454.2,851.42 454.3,851.71 454.4,852.01 454.5,852.3 454.6,852.6 454.7,852.89 454.8,852.7 454.9,852.52 455,852.35 455.1,852.19 455.2,852.04 455.3,851.89 455.4,851.76 455.5,851.62 455.6,851.2 455.7,850.83 455.8,850.5 455.9,850.2 456,849.94 456.1,849.7 456.2,849.49 456.3,849.3 456.4,849.11 456.5,848.95 456.6,848.8 456.7,848.65 456.8,848.48 456.9,848.34 457,848.2 457.1,848 457.2,847.82 457.3,847.67 457.4,847.59 457.5,847.53 457.6,847.47 457.7,847.44 457.8,847.41 457.9,847.38 458,847.35 458.1,847.33 458.2,847.31 458.3,847.29 458.4,847.28 458.5,847.27 458.6,847.26 458.7,847.25 458.8,847.23 458.9,847.22 459,847.21 459.1,847.19 459.2,847.18 459.3,847.17 459.4,847.16 459.5,847.16 459.6,847.15 459.7,847.14 459.8,847.13 459.9,847.12 460,847.11 460.1,847.1 460.2,847.09 460.3,847.09 460.4,847.08 460.5,847.07 460.6,847.07 460.7,847.06 460.8,847.06 460.9,847.05 461,847.05 461.1,847.04 461.2,847.04 461.3,847.03 461.4,847.03 461.5,847.02 461.6,847.02 461.7,847.02 461.8,847.02 461.9,847.01 462,847.01 462.1,847.01 462.2,847.01 462.3,847.01 462.4,847.01 462.5,847.01 462.6,847 462.7,847 462.8,847 462.9,847 463,847 463.1,847 463.2,847 463.3,847 463.4,847 463.5,847 463.6,847 463.7,847 463.8,847 463.9,847 464,847 464.1,847.31 464.2,847.63 464.3,847.94 464.4,848.26 464.5,848.57 464.6,848.89 464.7,849.2 464.8,849.52 464.9,849.83 465,850.15 465.1,850.46 465.2,850.78 465.3,851.09 465.4,851.41 465.5,851.72 465.6,852.04 465.7,852.35 465.8,852.67 465.9,852.98 466,853.29 466.1,853.09 466.2,852.89 466.3,852.71 466.4,852.54 466.5,852.38 466.6,852.23 466.7,852.08 466.8,851.93 466.9,851.48 467,851.09 467.1,850.73 467.2,850.42 467.3,850.14 467.4,849.89 467.5,849.66 467.6,849.45 467.7,849.26 467.8,849.08 467.9,848.92 468,848.77 468.1,848.58 468.2,848.43 468.3,848.29 468.4,848.07 468.5,847.88 468.6,847.72 468.7,847.63 468.8,847.56 468.9,847.5 469,847.47 469.1,847.43 469.2,847.4 469.3,847.38 469.4,847.35 469.5,847.33 469.6,847.31 469.7,847.3 469.8,847.29 469.9,847.27 470,847.26 470.1,847.25 470.2,847.23 470.3,847.22 470.4,847.21 470.5,847.2 470.6,847.19 470.7,847.18 470.8,847.17 470.9,847.16 471,847.15 471.1,847.14 471.2,847.13 471.3,847.12 471.4,847.11 471.5,847.1 471.6,847.09 471.7,847.08 471.8,847.08 471.9,847.07 472,847.07 472.1,847.06 472.2,847.06 472.3,847.05 472.4,847.04 472.5,847.04 472.6,847.03 472.7,847.03 472.8,847.03 472.9,847.02 473,847.02 473.1,847.02 473.2,847.02 473.3,847.01 473.4,847.01 473.5,847.01 473.6,847.01 473.7,847.01 473.8,847.01 473.9,847 474,847 474.1,847 474.2,847 474.3,847 474.4,847 474.5,847 474.6,847 474.7,847 474.8,847 474.9,847 475,847 475.1,847 475.2,847 475.3,847 475.4,847 475.5,847.25 475.6,847.5 475.7,847.75 475.8,848 475.9,848.25 476,848.5 476.1,848.75 476.2,849 476.3,849.25 476.4,849.5 476.5,849.75 476.6,850 476.7,850.25 476.8,850.5 476.9,850.75 477,851 477.1,851.25 477.2,851.5 477.3,851.75 477.4,852 477.5,851.83 477.6,851.68 477.7,851.53 477.8,851.4 477.9,851.27 478,851.15 478.1,851.03 478.2,850.91 478.3,850.56 478.4,850.24 478.5,849.96 478.6,849.71 478.7,849.49 478.8,849.29 478.9,849.11 479,848.95 479.1,848.79 479.2,848.65 479.3,848.53 479.4,848.4 479.5,848.26 479.6,848.13 479.7,848.02 479.8,847.85 479.9,847.69 480,847.57 480.1,847.5 480.2,847.44 480.3,847.4 480.4,847.37 480.5,847.34 480.6,847.32 480.7,847.3 480.8,847.28 480.9,847.26 481,847.25 481.1,847.24 481.2,847.23 481.3,847.22 481.4,847.21 481.5,847.19 481.6,847.18 481.7,847.17 481.8,847.16 481.9,847.15 482,847.15 482.1,847.14 482.2,847.13 482.3,847.12 482.4,847.12 482.5,847.11 482.6,847.1 482.7,847.09 482.8,847.08 482.9,847.08 483,847.07 483.1,847.07 483.2,847.06 483.3,847.06 483.4,847.05 483.5,847.05 483.6,847.04 483.7,847.04 483.8,847.03 483.9,847.03 484,847.03 484.1,847.02 484.2,847.02 484.3,847.02 484.4,847.02 484.5,847.01 484.6,847.01 484.7,847.01 484.8,847.01 484.9,847.01 485,847.01 485.1,847 485.2,847 485.3,847 485.4,847 485.5,847 485.6,847 485.7,847 485.8,847 485.9,847 486,847 486.1,847 486.2,847 486.3,847 486.4,847 486.5,847 486.6,847 486.7,847.25 486.8,847.5 486.9,847.75 487,848 487.1,848.25 487.2,848.5 487.3,848.75 487.4,849 487.5,849.25 487.6,849.5 487.7,849.75 487.8,850 487.9,850.25 488,850.5 488.1,850.75 488.2,851 488.3,851.25 488.4,851.5 488.5,851.75 488.6,852 488.7,851.83 488.8,851.68 488.9,851.53 489,851.4 489.1,851.27 489.2,851.15 489.3,851.03 489.4,850.91 489.5,850.56 489.6,850.24 489.7,849.96 489.8,849.71 489.9,849.49 490,849.29 490.1,849.11 490.2,848.95 490.3,848.79 490.4,848.65 490.5,848.53 490.6,848.4 490.7,848.26 490.8,848.13 490.9,848.02 491,847.85 491.1,847.69 491.2,847.57 491.3,847.5 491.4,847.44 491.5,847.4 491.6,847.37 491.7,847.34 491.8,847.32 491.9,847.3 492,847.28 492.1,847.26 492.2,847.25 492.3,847.24 492.4,847.23 492.5,847.22 492.6,847.21 492.7,847.19 492.8,847.18 492.9,847.17 493,847.16 493.1,847.16 493.2,847.15 493.3,847.14 493.4,847.13 493.5,847.12 493.6,847.12 493.7,847.11 493.8,847.1 493.9,847.09 494,847.08 494.1,847.08 494.2,847.07 494.3,847.07 494.4,847.06 494.5,847.06 494.6,847.05 494.7,847.05 494.8,847.04 494.9,847.04 495,847.03 495.1,847.03 495.2,847.03 495.3,847.02 495.4,847.02 495.5,847.02 495.6,847.02 495.7,847.01 495.8,847.01 495.9,847.01 496,847.01 496.1,847.01 496.2,847.01 496.3,847 496.4,847 496.5,847 496.6,847 496.7,847 496.8,847 496.9,847 497,847 497.1,847 497.2,847 497.3,847 497.4,847 497.5,847 497.6,847 497.7,847 497.8,847 497.9,847 498,847 498.1,847 498.2,847.25 498.3,847.5 498.4,847.75 498.5,848 498.6,848.25 498.7,848.5 498.8,848.75 498.9,849 499,849.25 499.1,849.5 499.2,849.75 499.3,850 499.4,850.25 499.5,850.5 499.6,850.75 499.7,851 499.8,851.25 499.9,851.5 500,851.75 500.1,852 500.2,851.83 500.3,851.68 500.4,851.53 500.5,851.4 500.6,851.27 500.7,851.15 500.8,851.03 500.9,850.91 501,850.56 501.1,850.24 501.2,849.96 501.3,849.71 501.4,849.49 501.5,849.29 501.6,849.11 501.7,848.95 501.8,848.79 501.9,848.65 502,848.53 502.1,848.4 502.2,848.26 502.3,848.13 502.4,848.02 502.5,847.85 502.6,847.69 502.7,847.57 502.8,847.5 502.9,847.45 503,847.4 503.1,847.37 503.2,847.34 503.3,847.32 503.4,847.3 503.5,847.28 503.6,847.26 503.7,847.25 503.8,847.24 503.9,847.23 504,847.22 504.1,847.21 504.2,847.19 504.3,847.18 504.4,847.17 504.5,847.16 504.6,847.16 504.7,847.15 504.8,847.14 504.9,847.13 505,847.12 505.1,847.12 505.2,847.11 505.3,847.1 505.4,847.09 505.5,847.08 505.6,847.08 505.7,847.07 505.8,847.07 505.9,847.06 506,847.06 506.1,847.05 506.2,847.05 506.3,847.04 506.4,847.04 506.5,847.03 506.6,847.03 506.7,847.03 506.8,847.02 506.9,847.02 507,847.02 507.1,847.02 507.2,847.01 507.3,847.01 507.4,847.01 507.5,847.01 507.6,847.01 507.7,847.01 507.8,847 507.9,847 508,847 508.1,847 508.2,847 508.3,847 508.4,847 508.5,847 508.6,847 508.7,847 508.8,847 508.9,847 509,847 509.1,847 509.2,847 509.3,847 509.4,847 509.5,847 509.6,847.25 509.7,847.5 509.8,847.75 509.9,848 510,848.25 510.1,848.5 510.2,848.75 510.3,849 510.4,849.25 510.5,849.5 510.6,849.75 510.7,850 510.8,850.25 510.9,850.5 511,850.75 511.1,851 511.2,851.25 511.3,851.5 511.4,851.75 511.5,852 511.6,851.83 511.7,851.68 511.8,851.53 511.9,851.4 512,851.27 512.1,851.15 512.2,851.03 512.3,850.91 512.4,850.56 512.5,850.24 512.6,849.96 512.7,849.71 512.8,849.49 512.9,849.29 513,849.11 513.1,848.95 513.2,848.79 513.3,848.65 513.4,848.53 513.5,848.4 513.6,848.26 513.7,848.13 513.8,848.02 513.9,847.85 514,847.69 514.1,847.57 514.2,847.5 514.3,847.45 514.4,847.4 514.5,847.37 514.6,847.34 514.7,847.32 514.8,847.3 514.9,847.28 515,847.26 515.1,847.25 515.2,847.24 515.3,847.23 515.4,847.22 515.5,847.21 515.6,847.19 515.7,847.18 515.8,847.17 515.9,847.16 516,847.16 516.1,847.15 516.2,847.14 516.3,847.13 516.4,847.12 516.5,847.12 516.6,847.11 516.7,847.1 516.8,847.09 516.9,847.08 517,847.08 517.1,847.07 517.2,847.07 517.3,847.06 517.4,847.06 517.5,847.05 517.6,847.05 517.7,847.04 517.8,847.04 517.9,847.03 518,847.03 518.1,847.03 518.2,847.02 518.3,847.02 518.4,847.02 518.5,847.02 518.6,847.01 518.7,847.01 518.8,847.01 518.9,847.01 519,847.01 519.1,847.01 519.2,847 519.3,847 519.4,847 519.5,847 519.6,847 519.7,847 519.8,847 519.9,847 520,847 520.1,847 520.2,847 520.3,847 520.4,847 520.5,847 520.6,847 520.7,847 520.8,847 520.9,847 521,847.23 521.1,847.47 521.2,847.7 521.3,847.94 521.4,848.17 521.5,848.41 521.6,848.64 521.7,848.88 521.8,849.11 521.9,849.35 522,849.58 522.1,849.82 522.2,850.05 522.3,850.29 522.4,850.52 522.5,850.76 522.6,850.99 522.7,851.23 522.8,851.46 522.9,851.7 523,851.54 523.1,851.4 523.2,851.26 523.3,851.13 523.4,851.01 523.5,850.9 523.6,850.79 523.7,850.68 523.8,850.34 523.9,850.05 524,849.79 524.1,849.55 524.2,849.34 524.3,849.15 524.4,848.99 524.5,848.83 524.6,848.68 524.7,848.55 524.8,848.43 524.9,848.32 525,848.18 525.1,848.06 525.2,847.96 525.3,847.79 525.4,847.65 525.5,847.54 525.6,847.47 525.7,847.42 525.8,847.38 525.9,847.35 526,847.32 526.1,847.3 526.2,847.28 526.3,847.26 526.4,847.25 526.5,847.23 526.6,847.22 526.7,847.21 526.8,847.2 526.9,847.2 527,847.18 527.1,847.17 527.2,847.16 527.3,847.15 527.4,847.15 527.5,847.14 527.6,847.13 527.7,847.12 527.8,847.12 527.9,847.11 528,847.1 528.1,847.09 528.2,847.09 528.3,847.08 528.4,847.07 528.5,847.07 528.6,847.06 528.7,847.06 528.8,847.05 528.9,847.05 529,847.05 529.1,847.04 529.2,847.04 529.3,847.03 529.4,847.03 529.5,847.02 529.6,847.02 529.7,847.02 529.8,847.02 529.9,847.01 530,847.01 530.1,847.01 530.2,847.01 530.3,847.01 530.4,847.01 530.5,847.01 530.6,847 530.7,847 530.8,847 530.9,847 531,847 531.1,847 531.2,847 531.3,847 531.4,847 531.5,847 531.6,847 531.7,847 531.8,847 531.9,847 532,847 532.1,847 532.2,847 532.3,847 532.4,847.23 532.5,847.47 532.6,847.7 532.7,847.94 532.8,848.17 532.9,848.41 533,848.64 533.1,848.88 533.2,849.11 533.3,849.35 533.4,849.58 533.5,849.82 533.6,850.05 533.7,850.29 533.8,850.52 533.9,850.76 534,850.99 534.1,851.23 534.2,851.46 534.3,851.7 534.4,851.54 534.5,851.4 534.6,851.26 534.7,851.13 534.8,851.01 534.9,850.9 535,850.79 535.1,850.68 535.2,850.34 535.3,850.05 535.4,849.79 535.5,849.55 535.6,849.34 535.7,849.15 535.8,848.99 535.9,848.83 536,848.68 536.1,848.55 536.2,848.43 536.3,848.32 536.4,848.18 536.5,848.06 536.6,847.96 536.7,847.79 536.8,847.65 536.9,847.54 537,847.47 537.1,847.42 537.2,847.38 537.3,847.35 537.4,847.32 537.5,847.3 537.6,847.28 537.7,847.26 537.8,847.25 537.9,847.23 538,847.22 538.1,847.21 538.2,847.2 538.3,847.2 538.4,847.18 538.5,847.17 538.6,847.16 538.7,847.15 538.8,847.15 538.9,847.14 539,847.13 539.1,847.12 539.2,847.12 539.3,847.11 539.4,847.1 539.5,847.09 539.6,847.09 539.7,847.08 539.8,847.07 539.9,847.07 540,847.06 540.1,847.06 540.2,847.05 540.3,847.05 540.4,847.05 540.5,847.04 540.6,847.04 540.7,847.03 540.8,847.03 540.9,847.02 541,847.02 541.1,847.02 541.2,847.02 541.3,847.01 541.4,847.01 541.5,847.01 541.6,847.01 541.7,847.01 541.8,847.01 541.9,847.01 542,847 542.1,847 542.2,847 542.3,847 542.4,847 542.5,847 542.6,847 542.7,847 542.8,847 542.9,847 543,847 543.1,847 543.2,847 543.3,847 543.4,847 543.5,847 543.6,847 543.7,847 543.8,847 543.9,847.18 544,847.36 544.1,847.54 544.2,847.72 544.3,847.9 544.4,848.08 544.5,848.26 544.6,848.44 544.7,848.62 544.8,848.8 544.9,848.98 545,849.16 545.1,849.34 545.2,849.52 545.3,849.7 545.4,849.88 545.5,850.06 545.6,850.24 545.7,850.42 545.8,850.6 545.9,850.48 546,850.37 546.1,850.26 546.2,850.16 546.3,850.07 546.4,849.98 546.5,849.9 546.6,849.82 546.7,849.56 546.8,849.33 546.9,849.13 547,848.95 547.1,848.79 547.2,848.65 547.3,848.52 547.4,848.4 547.5,848.29 547.6,848.19 547.7,848.1 547.8,848.01 547.9,847.9 548,847.81 548.1,847.73 548.2,847.61 548.3,847.5 548.4,847.41 548.5,847.36 548.6,847.32 548.7,847.29 548.8,847.27 548.9,847.25 549,847.23 549.1,847.21 549.2,847.2 549.3,847.19 549.4,847.18 549.5,847.17 549.6,847.16 549.7,847.16 549.8,847.15 549.9,847.14 550,847.13 550.1,847.12 550.2,847.12 550.3,847.11 550.4,847.1 550.5,847.1 550.6,847.09 550.7,847.09 550.8,847.08 550.9,847.08 551,847.07 551.1,847.06 551.2,847.06 551.3,847.06 551.4,847.05 551.5,847.05 551.6,847.04 551.7,847.04 551.8,847.04 551.9,847.03 552,847.03 552.1,847.03 552.2,847.02 552.3,847.02 552.4,847.02 552.5,847.02 552.6,847.01 552.7,847.01 552.8,847.01 552.9,847.01 553,847.01 553.1,847.01 553.2,847.01 553.3,847 553.4,847 553.5,847 553.6,847 553.7,847 553.8,847 553.9,847 554,847 554.1,847 554.2,847 554.3,847 554.4,847 554.5,847 554.6,847 554.7,847 554.8,847 554.9,847 555,847 555.1,847 555.2,847 555.3,847" fill="none" stroke="#000" stroke-width="2.7" stroke-linejoin="round" stroke-linecap="butt"/>
<line x1="156.3" y1="424.3" x2="156.3" y2="715.5" stroke="#000" stroke-width="2.2"/>
<line x1="155.2" y1="706.5" x2="580.5" y2="706.5" stroke="#000" stroke-width="2.2"/>
<line x1="147.3" y1="436.2" x2="156.3" y2="436.2" stroke="#000" stroke-width="2.1"/>
<text x="145.6" y="445.5" font-size="25.5" text-anchor="end">0</text>
<line x1="147.3" y1="495.48" x2="156.3" y2="495.48" stroke="#000" stroke-width="2.1"/>
<text x="145.6" y="504.78" font-size="25.5" text-anchor="end">-10</text>
<line x1="147.3" y1="554.76" x2="156.3" y2="554.76" stroke="#000" stroke-width="2.1"/>
<text x="145.6" y="564.06" font-size="25.5" text-anchor="end">-20</text>
<line x1="147.3" y1="614.04" x2="156.3" y2="614.04" stroke="#000" stroke-width="2.1"/>
<text x="145.6" y="623.34" font-size="25.5" text-anchor="end">-30</text>
<line x1="147.3" y1="673.32" x2="156.3" y2="673.32" stroke="#000" stroke-width="2.1"/>
<text x="145.6" y="682.62" font-size="25.5" text-anchor="end">-40</text>
<line x1="150.8" y1="465.84" x2="156.3" y2="465.84" stroke="#000" stroke-width="2.1"/>
<line x1="150.8" y1="525.12" x2="156.3" y2="525.12" stroke="#000" stroke-width="2.1"/>
<line x1="150.8" y1="584.4" x2="156.3" y2="584.4" stroke="#000" stroke-width="2.1"/>
<line x1="150.8" y1="643.68" x2="156.3" y2="643.68" stroke="#000" stroke-width="2.1"/>
<line x1="150.8" y1="702.96" x2="156.3" y2="702.96" stroke="#000" stroke-width="2.1"/>
<line x1="210.3" y1="706.5" x2="210.3" y2="715.5" stroke="#000" stroke-width="2.1"/>
<line x1="264.3" y1="706.5" x2="264.3" y2="715.5" stroke="#000" stroke-width="2.1"/>
<line x1="318.3" y1="706.5" x2="318.3" y2="715.5" stroke="#000" stroke-width="2.1"/>
<line x1="372.3" y1="706.5" x2="372.3" y2="715.5" stroke="#000" stroke-width="2.1"/>
<line x1="426.3" y1="706.5" x2="426.3" y2="715.5" stroke="#000" stroke-width="2.1"/>
<line x1="480.3" y1="706.5" x2="480.3" y2="715.5" stroke="#000" stroke-width="2.1"/>
<line x1="534.3" y1="706.5" x2="534.3" y2="715.5" stroke="#000" stroke-width="2.1"/>
<line x1="183.3" y1="706.5" x2="183.3" y2="712" stroke="#000" stroke-width="2.1"/>
<line x1="237.3" y1="706.5" x2="237.3" y2="712" stroke="#000" stroke-width="2.1"/>
<line x1="291.3" y1="706.5" x2="291.3" y2="712" stroke="#000" stroke-width="2.1"/>
<line x1="345.3" y1="706.5" x2="345.3" y2="712" stroke="#000" stroke-width="2.1"/>
<line x1="399.3" y1="706.5" x2="399.3" y2="712" stroke="#000" stroke-width="2.1"/>
<line x1="453.3" y1="706.5" x2="453.3" y2="712" stroke="#000" stroke-width="2.1"/>
<line x1="507.3" y1="706.5" x2="507.3" y2="712" stroke="#000" stroke-width="2.1"/>
<line x1="561.3" y1="706.5" x2="561.3" y2="712" stroke="#000" stroke-width="2.1"/>
<text x="156.3" y="740.3" font-size="25.5" text-anchor="middle">0</text>
<text x="210.3" y="740.3" font-size="25.5" text-anchor="middle">0.2</text>
<text x="264.3" y="740.3" font-size="25.5" text-anchor="middle">0.4</text>
<text x="318.3" y="740.3" font-size="25.5" text-anchor="middle">0.6</text>
<text x="372.3" y="740.3" font-size="25.5" text-anchor="middle">0.8</text>
<text x="426.3" y="740.3" font-size="25.5" text-anchor="middle">1</text>
<text x="480.3" y="740.3" font-size="25.5" text-anchor="middle">1.2</text>
<text x="534.3" y="740.3" font-size="25.5" text-anchor="middle">1.4</text>
<text x="355.7" y="771.8" font-size="24" text-anchor="middle" stroke-width="0.5">[<tspan font-weight="bold">PNO</tspan>]/[<tspan font-weight="bold">1</tspan>]</text>
<text transform="translate(84.3 559.6) rotate(-90)" font-size="24" text-anchor="middle" stroke-width="0.5">Δ<tspan font-style="italic">H</tspan><tspan font-size="15.5" dy="-8.8" font-style="italic">o</tspan><tspan dy="8.8"> (kJ mol</tspan><tspan font-size="15.5" dy="-8.8">-1</tspan><tspan dy="8.8">)</tspan></text>
<polyline points="167.3,692.31 169.27,692.25 171.25,692.18 173.22,692.11 175.2,692.04 177.17,691.97 179.14,691.9 181.12,691.82 183.09,691.74 185.06,691.66 187.04,691.58 189.01,691.49 190.99,691.4 192.96,691.31 194.93,691.21 196.91,691.11 198.88,691 200.86,690.9 202.83,690.78 204.8,690.67 206.78,690.55 208.75,690.42 210.73,690.29 212.7,690.16 214.67,690.02 216.65,689.87 218.62,689.72 220.59,689.57 222.57,689.4 224.54,689.23 226.52,689.05 228.49,688.87 230.46,688.67 232.44,688.47 234.41,688.26 236.39,688.03 238.36,687.8 240.33,687.56 242.31,687.31 244.28,687.04 246.25,686.76 248.23,686.47 250.2,686.16 252.18,685.84 254.15,685.5 256.12,685.14 258.1,684.76 260.07,684.36 262.05,683.95 264.02,683.5 265.99,683.04 267.97,682.54 269.94,682.02 271.92,681.47 273.89,680.88 275.86,680.26 277.84,679.6 279.81,678.9 281.78,678.16 283.76,677.37 285.73,676.52 287.71,675.62 289.68,674.66 291.65,673.64 293.63,672.54 295.6,671.37 297.58,670.11 299.55,668.77 301.52,667.33 303.5,665.78 305.47,664.13 307.44,662.35 309.42,660.43 311.39,658.38 313.37,656.17 315.34,653.79 317.31,651.24 319.29,648.5 321.26,645.55 323.24,642.4 325.21,639.02 327.18,635.4 329.16,631.54 331.13,627.43 333.11,623.06 335.08,618.43 337.05,613.55 339.03,608.41 341,603.04 342.97,597.46 344.95,591.67 346.92,585.72 348.9,579.63 350.87,573.45 352.84,567.21 354.82,560.95 356.79,554.73 358.77,548.57 360.74,542.53 362.71,536.64 364.69,530.92 366.66,525.42 368.63,520.13 370.61,515.09 372.58,510.3 374.56,505.77 376.53,501.5 378.5,497.48 380.48,493.71 382.45,490.18 384.43,486.88 386.4,483.81 388.37,480.94 390.35,478.27 392.32,475.79 394.29,473.48 396.27,471.32 398.24,469.32 400.22,467.46 402.19,465.73 404.16,464.11 406.14,462.6 408.11,461.2 410.09,459.89 412.06,458.67 414.03,457.52 416.01,456.46 417.98,455.46 419.96,454.52 421.93,453.64 423.9,452.82 425.88,452.04 427.85,451.31 429.82,450.63 431.8,449.98 433.77,449.38 435.75,448.8 437.72,448.26 439.69,447.75 441.67,447.27 443.64,446.81 445.62,446.38 447.59,445.97 449.56,445.58 451.54,445.21 453.51,444.86 455.48,444.52 457.46,444.21 459.43,443.9 461.41,443.62 463.38,443.34 465.35,443.08 467.33,442.83 469.3,442.59 471.28,442.36 473.25,442.15 475.22,441.94 477.2,441.74 479.17,441.55 481.15,441.36 483.12,441.19 485.09,441.02 487.07,440.86 489.04,440.7 491.01,440.55 492.99,440.41 494.96,440.27 496.94,440.14 498.91,440.01 500.88,439.89 502.86,439.77 504.83,439.65 506.81,439.54 508.78,439.44 510.75,439.34 512.73,439.24 514.7,439.14 516.67,439.05 518.65,438.96 520.62,438.87 522.6,438.79 524.57,438.71 526.54,438.63 528.52,438.55 530.49,438.48 532.47,438.41 534.44,438.34 536.41,438.27 538.39,438.21 540.36,438.15 542.34,438.09 544.31,438.03 546.28,437.97 548.26,437.91 550.23,437.86 552.2,437.81 554.18,437.76 556.15,437.71 558.13,437.66 560.1,437.61" fill="none" stroke="#000" stroke-width="2.0" stroke-linejoin="round"/>
<circle cx="178.3" cy="692.8" r="3.3" stroke="none"/>
<circle cx="189" cy="692.5" r="3.3" stroke="none"/>
<circle cx="199.5" cy="691.2" r="3.3" stroke="none"/>
<circle cx="210.2" cy="688.6" r="3.3" stroke="none"/>
<circle cx="220.9" cy="689.6" r="3.3" stroke="none"/>
<circle cx="232" cy="691.8" r="3.3" stroke="none"/>
<circle cx="243.3" cy="687.3" r="3.3" stroke="none"/>
<circle cx="254" cy="684.7" r="3.3" stroke="none"/>
<circle cx="265" cy="682.8" r="3.3" stroke="none"/>
<circle cx="276" cy="680.8" r="3.3" stroke="none"/>
<circle cx="287" cy="672.4" r="3.3" stroke="none"/>
<circle cx="298.4" cy="669.1" r="3.3" stroke="none"/>
<circle cx="309.5" cy="659.2" r="3.3" stroke="none"/>
<circle cx="321" cy="647.6" r="3.3" stroke="none"/>
<circle cx="332.4" cy="625" r="3.3" stroke="none"/>
<circle cx="344" cy="594.9" r="3.3" stroke="none"/>
<circle cx="355.4" cy="559.1" r="3.3" stroke="none"/>
<circle cx="366.9" cy="524.6" r="3.3" stroke="none"/>
<circle cx="378.4" cy="496.5" r="3.3" stroke="none"/>
<circle cx="390.2" cy="479.2" r="3.3" stroke="none"/>
<circle cx="402" cy="466.6" r="3.3" stroke="none"/>
<circle cx="413.8" cy="457.8" r="3.3" stroke="none"/>
<circle cx="425.4" cy="451.3" r="3.3" stroke="none"/>
<circle cx="437.3" cy="447.9" r="3.3" stroke="none"/>
<circle cx="449.5" cy="445" r="3.3" stroke="none"/>
<circle cx="461.5" cy="443.8" r="3.3" stroke="none"/>
<circle cx="473.7" cy="441.8" r="3.3" stroke="none"/>
<circle cx="485.9" cy="440.7" r="3.3" stroke="none"/>
<circle cx="498" cy="440.6" r="3.3" stroke="none"/>
<circle cx="510.3" cy="439.7" r="3.3" stroke="none"/>
<circle cx="522.5" cy="438.6" r="3.3" stroke="none"/>
<circle cx="535" cy="438.5" r="3.3" stroke="none"/>
<circle cx="547.6" cy="438.4" r="3.3" stroke="none"/>
<circle cx="560.1" cy="438" r="3.3" stroke="none"/>
<line x1="147.3" y1="1215.9" x2="147.3" y2="1507.3" stroke="#000" stroke-width="2.2"/>
<line x1="146.2" y1="1498.3" x2="580.5" y2="1498.3" stroke="#000" stroke-width="2.2"/>
<line x1="138.3" y1="1230" x2="147.3" y2="1230" stroke="#000" stroke-width="2.1"/>
<text x="136.6" y="1239.3" font-size="25.5" text-anchor="end">0</text>
<line x1="138.3" y1="1271.17" x2="147.3" y2="1271.17" stroke="#000" stroke-width="2.1"/>
<text x="136.6" y="1280.47" font-size="25.5" text-anchor="end">-10</text>
<line x1="138.3" y1="1312.34" x2="147.3" y2="1312.34" stroke="#000" stroke-width="2.1"/>
<text x="136.6" y="1321.64" font-size="25.5" text-anchor="end">-20</text>
<line x1="138.3" y1="1353.51" x2="147.3" y2="1353.51" stroke="#000" stroke-width="2.1"/>
<text x="136.6" y="1362.81" font-size="25.5" text-anchor="end">-30</text>
<line x1="138.3" y1="1394.68" x2="147.3" y2="1394.68" stroke="#000" stroke-width="2.1"/>
<text x="136.6" y="1403.98" font-size="25.5" text-anchor="end">-40</text>
<line x1="138.3" y1="1435.85" x2="147.3" y2="1435.85" stroke="#000" stroke-width="2.1"/>
<text x="136.6" y="1445.15" font-size="25.5" text-anchor="end">-50</text>
<line x1="138.3" y1="1477.02" x2="147.3" y2="1477.02" stroke="#000" stroke-width="2.1"/>
<text x="136.6" y="1486.32" font-size="25.5" text-anchor="end">-60</text>
<line x1="141.8" y1="1250.59" x2="147.3" y2="1250.59" stroke="#000" stroke-width="2.1"/>
<line x1="141.8" y1="1291.76" x2="147.3" y2="1291.76" stroke="#000" stroke-width="2.1"/>
<line x1="141.8" y1="1332.92" x2="147.3" y2="1332.92" stroke="#000" stroke-width="2.1"/>
<line x1="141.8" y1="1374.1" x2="147.3" y2="1374.1" stroke="#000" stroke-width="2.1"/>
<line x1="141.8" y1="1415.26" x2="147.3" y2="1415.26" stroke="#000" stroke-width="2.1"/>
<line x1="141.8" y1="1456.43" x2="147.3" y2="1456.43" stroke="#000" stroke-width="2.1"/>
<line x1="141.8" y1="1497.61" x2="147.3" y2="1497.61" stroke="#000" stroke-width="2.1"/>
<line x1="202.5" y1="1498.3" x2="202.5" y2="1507.3" stroke="#000" stroke-width="2.1"/>
<line x1="257.7" y1="1498.3" x2="257.7" y2="1507.3" stroke="#000" stroke-width="2.1"/>
<line x1="312.9" y1="1498.3" x2="312.9" y2="1507.3" stroke="#000" stroke-width="2.1"/>
<line x1="368.1" y1="1498.3" x2="368.1" y2="1507.3" stroke="#000" stroke-width="2.1"/>
<line x1="423.3" y1="1498.3" x2="423.3" y2="1507.3" stroke="#000" stroke-width="2.1"/>
<line x1="478.5" y1="1498.3" x2="478.5" y2="1507.3" stroke="#000" stroke-width="2.1"/>
<line x1="533.7" y1="1498.3" x2="533.7" y2="1507.3" stroke="#000" stroke-width="2.1"/>
<line x1="174.9" y1="1498.3" x2="174.9" y2="1503.8" stroke="#000" stroke-width="2.1"/>
<line x1="230.1" y1="1498.3" x2="230.1" y2="1503.8" stroke="#000" stroke-width="2.1"/>
<line x1="285.3" y1="1498.3" x2="285.3" y2="1503.8" stroke="#000" stroke-width="2.1"/>
<line x1="340.5" y1="1498.3" x2="340.5" y2="1503.8" stroke="#000" stroke-width="2.1"/>
<line x1="395.7" y1="1498.3" x2="395.7" y2="1503.8" stroke="#000" stroke-width="2.1"/>
<line x1="450.9" y1="1498.3" x2="450.9" y2="1503.8" stroke="#000" stroke-width="2.1"/>
<line x1="506.1" y1="1498.3" x2="506.1" y2="1503.8" stroke="#000" stroke-width="2.1"/>
<line x1="561.3" y1="1498.3" x2="561.3" y2="1503.8" stroke="#000" stroke-width="2.1"/>
<text x="147.3" y="1532.1" font-size="25.5" text-anchor="middle">0</text>
<text x="202.5" y="1532.1" font-size="25.5" text-anchor="middle">0.2</text>
<text x="257.7" y="1532.1" font-size="25.5" text-anchor="middle">0.4</text>
<text x="312.9" y="1532.1" font-size="25.5" text-anchor="middle">0.6</text>
<text x="368.1" y="1532.1" font-size="25.5" text-anchor="middle">0.8</text>
<text x="423.3" y="1532.1" font-size="25.5" text-anchor="middle">1</text>
<text x="478.5" y="1532.1" font-size="25.5" text-anchor="middle">1.2</text>
<text x="533.7" y="1532.1" font-size="25.5" text-anchor="middle">1.4</text>
<text x="351.9" y="1563.6" font-size="24" text-anchor="middle" stroke-width="0.5">[<tspan font-weight="bold">16</tspan>]/[<tspan font-weight="bold">1</tspan>]</text>
<text transform="translate(84.3 1356.7) rotate(-90)" font-size="24" text-anchor="middle" stroke-width="0.5">Δ<tspan font-style="italic">H</tspan><tspan font-size="15.5" dy="-8.8" font-style="italic">o</tspan><tspan dy="8.8"> (kJ mol</tspan><tspan font-size="15.5" dy="-8.8">-1</tspan><tspan dy="8.8">)</tspan></text>
<polyline points="159,1478.5 250,1478.3 300,1477.8 327.3,1477.3 339,1476.9 350.7,1476.1 362.5,1474.5 374.3,1471.6 386.5,1465.9 398.8,1444.8 410.5,1383.2 422.3,1276 434.3,1243.5 446.6,1236.3 459,1233.5 471.4,1232.5 483.8,1231.8 496.2,1231.3 508.8,1230.9 521.3,1230.5 534,1230.1 546.9,1229.8 559.9,1229.6" fill="none" stroke="#000" stroke-width="2.0" stroke-linejoin="round"/>
<circle cx="169.8" cy="1476" r="3.3" stroke="none"/>
<circle cx="180.5" cy="1481.5" r="3.3" stroke="none"/>
<circle cx="191.5" cy="1477.6" r="3.3" stroke="none"/>
<circle cx="202.5" cy="1479.5" r="3.3" stroke="none"/>
<circle cx="213.5" cy="1483.8" r="3.3" stroke="none"/>
<circle cx="224.6" cy="1484.1" r="3.3" stroke="none"/>
<circle cx="235.6" cy="1484.4" r="3.3" stroke="none"/>
<circle cx="246.6" cy="1480.2" r="3.3" stroke="none"/>
<circle cx="258.3" cy="1478.2" r="3.3" stroke="none"/>
<circle cx="269.6" cy="1473.7" r="3.3" stroke="none"/>
<circle cx="281" cy="1479.5" r="3.3" stroke="none"/>
<circle cx="292.3" cy="1474" r="3.3" stroke="none"/>
<circle cx="304" cy="1480.2" r="3.3" stroke="none"/>
<circle cx="315.6" cy="1478.2" r="3.3" stroke="none"/>
<circle cx="327.3" cy="1475.3" r="3.3" stroke="none"/>
<circle cx="339" cy="1473.2" r="3.3" stroke="none"/>
<circle cx="350.7" cy="1472.9" r="3.3" stroke="none"/>
<circle cx="362.5" cy="1471.2" r="3.3" stroke="none"/>
<circle cx="374.3" cy="1466.8" r="3.3" stroke="none"/>
<circle cx="386.5" cy="1459.3" r="3.3" stroke="none"/>
<circle cx="398.3" cy="1442.5" r="3.3" stroke="none"/>
<circle cx="410.5" cy="1383.2" r="3.3" stroke="none"/>
<circle cx="422.3" cy="1274.5" r="3.3" stroke="none"/>
<circle cx="434.3" cy="1242.6" r="3.3" stroke="none"/>
<circle cx="446.6" cy="1235.7" r="3.3" stroke="none"/>
<circle cx="459" cy="1233.7" r="3.3" stroke="none"/>
<circle cx="471.4" cy="1234.3" r="3.3" stroke="none"/>
<circle cx="483.8" cy="1230.7" r="3.3" stroke="none"/>
<circle cx="496.2" cy="1231.6" r="3.3" stroke="none"/>
<circle cx="508.8" cy="1231.6" r="3.3" stroke="none"/>
<circle cx="521.3" cy="1230.8" r="3.3" stroke="none"/>
<circle cx="534" cy="1229.9" r="3.3" stroke="none"/>
<circle cx="546.9" cy="1229.5" r="3.3" stroke="none"/>
<circle cx="559.9" cy="1229.5" r="3.3" stroke="none"/>
</g>
</svg>
</body>
</html>
